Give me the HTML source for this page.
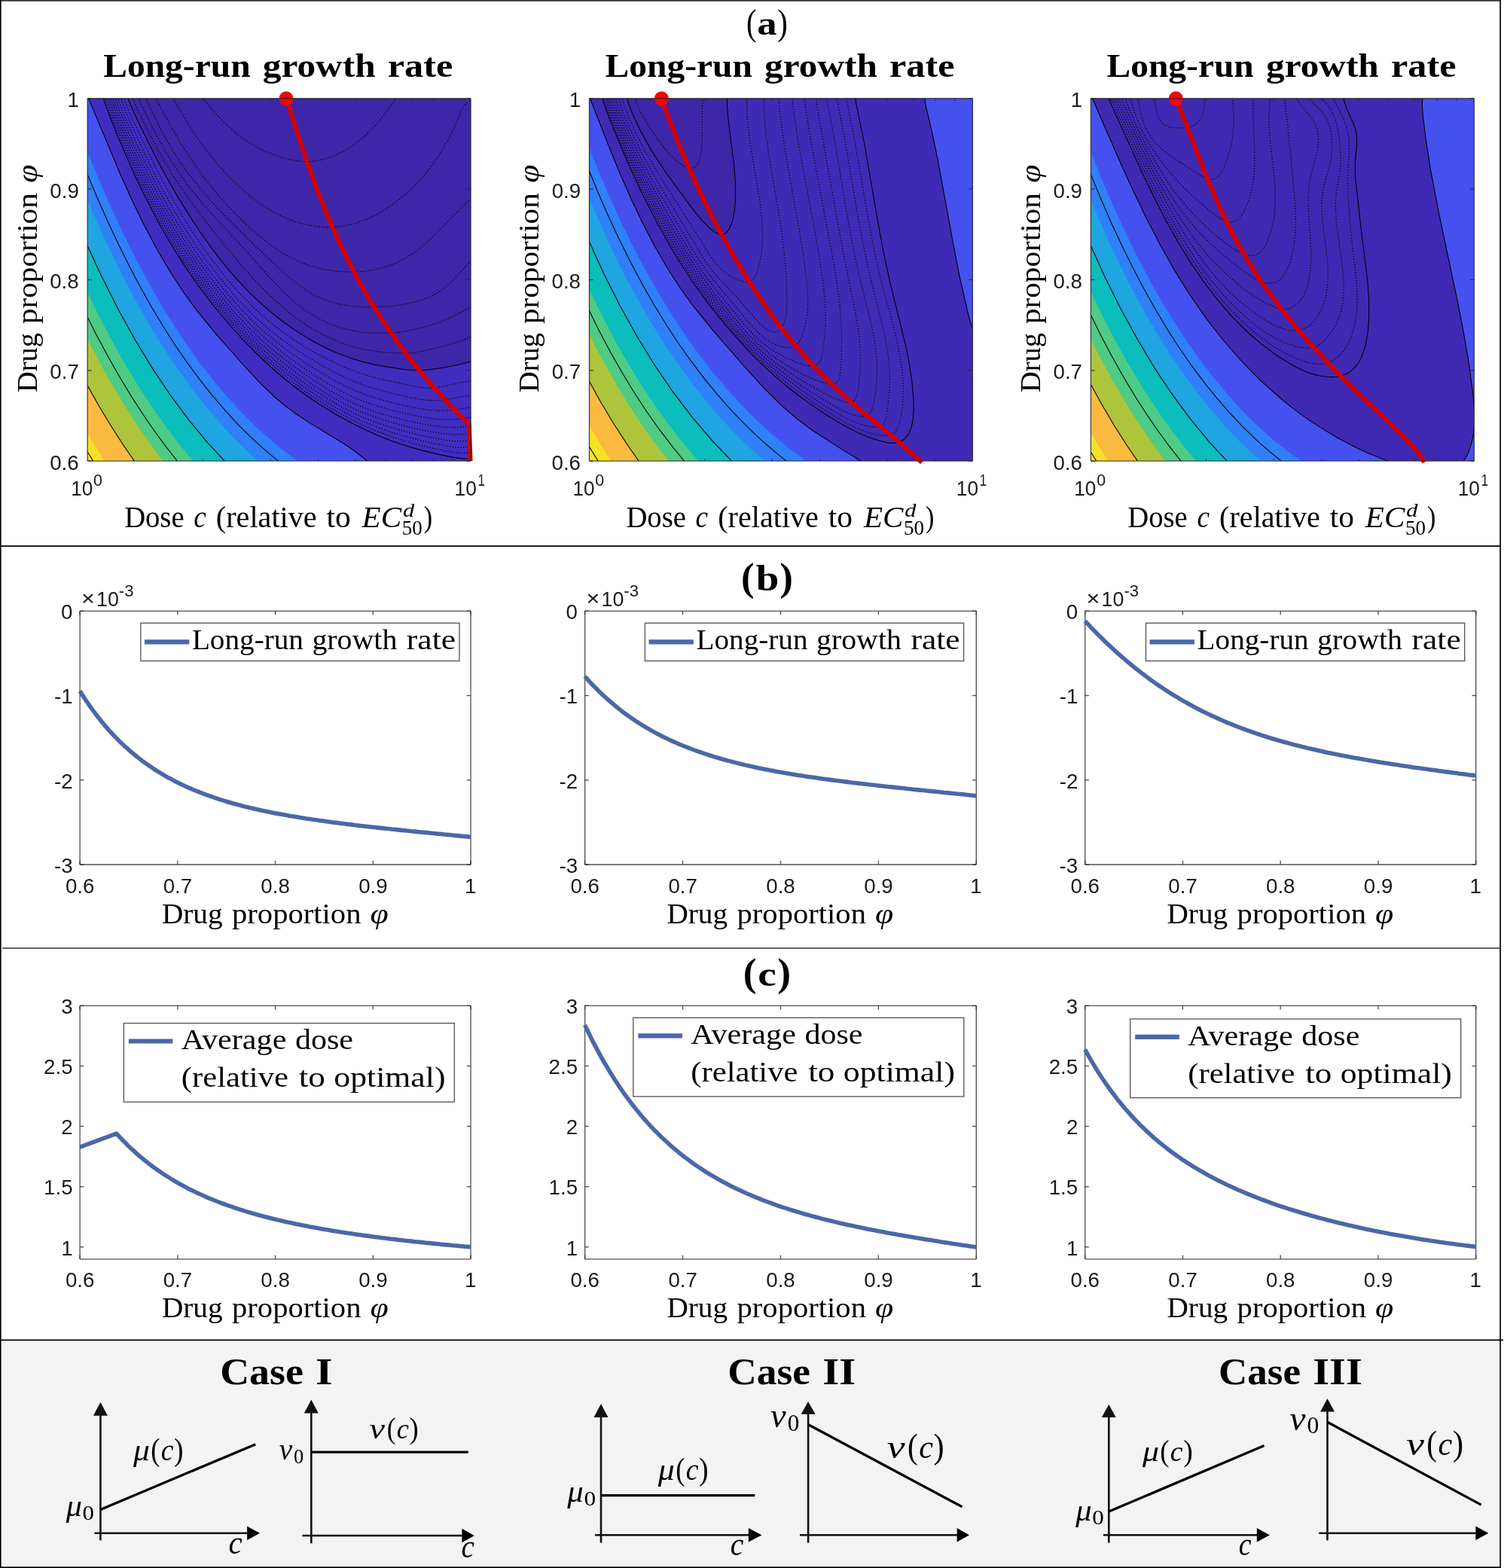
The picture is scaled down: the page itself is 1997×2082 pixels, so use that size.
<!DOCTYPE html>
<html><head><meta charset="utf-8"><title>Figure</title>
<style>html,body{margin:0;padding:0;background:#fff;}svg{display:block;}</style>
</head><body>
<svg xmlns="http://www.w3.org/2000/svg" width="1997" height="2082" viewBox="0 0 1997 2082">
<rect x="0" y="0" width="1997" height="2082" fill="#fff"/>
<rect x="3.3" y="1781.5" width="1987.3" height="298.1" fill="#f3f3f3"/>
<line x1="0" y1="0.8" x2="1993" y2="0.8" stroke="#333" stroke-width="1.7"/>
<line x1="0.8" y1="0" x2="0.8" y2="2082" stroke="#000" stroke-width="1.7"/>
<line x1="1992.1" y1="0" x2="1992.1" y2="2082" stroke="#000" stroke-width="1.7"/>
<line x1="0" y1="2081.1" x2="1993" y2="2081.1" stroke="#000" stroke-width="1.8"/>
<line x1="0" y1="725.1" x2="1993" y2="725.1" stroke="#000" stroke-width="1.7"/>
<line x1="3.2" y1="1259" x2="1993" y2="1259" stroke="#2e2e2e" stroke-width="1.7"/>
<line x1="0" y1="1779.4" x2="1996" y2="1779.4" stroke="#000" stroke-width="1.7"/>
<text x="991" y="46.3" font-family="'Liberation Serif', serif" font-size="49" textLength="13.32" lengthAdjust="spacingAndGlyphs">(</text>
<text x="1005.32" y="46.3" font-family="'Liberation Serif', serif" font-size="44.5" font-weight="bold" textLength="26.37" lengthAdjust="spacingAndGlyphs">a</text>
<text x="1032.28" y="46.3" font-family="'Liberation Serif', serif" font-size="49" textLength="13.58" lengthAdjust="spacingAndGlyphs">)</text>
<text x="983.9" y="784.2" font-family="'Liberation Serif', serif" font-size="53.4" font-weight="bold" textLength="17.47" lengthAdjust="spacingAndGlyphs">(</text>
<text x="1003.65" y="784.2" font-family="'Liberation Serif', serif" font-size="48.5" font-weight="bold" textLength="30.53" lengthAdjust="spacingAndGlyphs">b</text>
<text x="1035.21" y="784.2" font-family="'Liberation Serif', serif" font-size="53.4" font-weight="bold" textLength="17.68" lengthAdjust="spacingAndGlyphs">)</text>
<text x="986.77" y="1309.3" font-family="'Liberation Serif', serif" font-size="53.4" font-weight="bold" textLength="17.72" lengthAdjust="spacingAndGlyphs">(</text>
<text x="1006.15" y="1309.3" font-family="'Liberation Serif', serif" font-size="47" font-weight="bold" textLength="24.47" lengthAdjust="spacingAndGlyphs">c</text>
<text x="1032.3" y="1309.3" font-family="'Liberation Serif', serif" font-size="53.4" font-weight="bold" textLength="17.81" lengthAdjust="spacingAndGlyphs">)</text>
<clipPath id="clipA0"><rect x="116.2" y="130.7" width="508.9" height="481.4"/></clipPath>
<g clip-path="url(#clipA0)">
<rect x="116.2" y="130.7" width="508.9" height="481.4" fill="#3e26a8"/>
<path d="M116.2,128.7 169.3,128.7 174.2,141.7 188.2,171.4 204.2,203.7 218.2,230.2 230.2,251.4 244.2,274.7 258.2,296.8 274.2,320.2 288.2,339.2 302.2,356.6 316.2,372.7 328.2,385.4 342.2,399.1 357.6,412.7 372.5,424.7 386.3,434.7 401.5,444.7 415.0,452.7 430.2,460.7 444.2,467.2 458.2,472.9 474.2,478.3 488.2,482.2 504.2,485.6 542.2,491.2 552.2,491.8 562.2,491.6 574.2,490.4 592.2,487.5 610.2,483.9 628.2,479.5 628.2,614.7 114.2,614.7 114.2,128.7 116.2,128.7Z" fill="#412cc0" fill-rule="evenodd"/>
<path d="M116.2,128.7 116.8,128.7 148.2,204.4 163.9,240.7 178.2,271.9 194.2,304.3 210.2,334.1 228.2,364.5 244.2,388.8 262.2,413.5 286.2,442.8 326.2,488.0 348.2,511.4 366.2,528.5 380.2,540.0 394.2,550.3 412.2,562.1 459.1,590.7 473.2,600.7 490.9,614.7 114.2,614.7 114.2,128.7 116.2,128.7Z" fill="#4551ef" fill-rule="evenodd"/>
<path d="M114.9,198.7 130.2,236.1 146.2,272.8 162.2,307.3 178.2,339.6 194.2,369.8 212.2,401.5 230.2,430.8 246.2,455.0 264.2,480.3 282.2,503.7 300.2,525.2 320.2,547.1 340.0,566.7 360.0,584.7 379.7,600.7 399.0,614.7 114.2,614.7 114.2,196.9 114.9,198.7Z" fill="#2f80f9" fill-rule="evenodd"/>
<path d="M115.0,262.7 140.2,319.8 152.2,345.0 166.2,372.9 180.2,399.2 194.2,424.1 208.2,447.5 222.2,469.6 236.2,490.4 252.2,512.6 266.2,530.9 282.2,550.4 298.2,568.5 313.6,584.7 329.9,600.7 345.4,614.7 114.2,614.7 114.2,260.8 115.0,262.7Z" fill="#1fa5e0" fill-rule="evenodd"/>
<path d="M114.4,322.7 134.8,366.7 157.0,410.7 179.1,450.7 202.2,488.9 226.2,524.7 250.2,557.1 274.6,586.7 300.5,614.7 114.2,614.7 114.2,322.2 114.4,322.7Z" fill="#0bbdbc" fill-rule="evenodd"/>
<path d="M114.3,384.7 131.0,418.7 148.8,452.7 165.7,482.7 183.8,512.7 202.1,540.7 220.4,566.7 238.7,590.7 258.6,614.7 114.2,614.7 114.2,384.4 114.3,384.7Z" fill="#4ecb85" fill-rule="evenodd"/>
<path d="M115.0,448.7 140.7,496.7 165.6,538.7 178.4,558.7 191.9,578.7 218.4,614.7 114.2,614.7 114.2,447.1 115.0,448.7Z" fill="#aec43a" fill-rule="evenodd"/>
<path d="M114.3,508.7 131.2,538.7 146.9,564.7 163.6,590.7 180.1,614.7 114.2,614.7 114.3,508.7Z" fill="#f9ba3f" fill-rule="evenodd"/>
<path d="M114.4,572.7 140.5,614.7 114.2,614.7 114.2,572.4 114.4,572.7Z" fill="#f5e125" fill-rule="evenodd"/>
<path d="M169.3,128.7 173.8,140.7 182.2,158.9 198.2,191.8 214.2,222.8 226.2,244.5 238.2,264.9 254.2,290.6 266.2,308.7 280.2,328.5 292.2,344.3 304.2,359.0 316.2,372.7 330.2,387.4 344.2,400.9 358.2,413.2 372.5,424.7 386.3,434.7 402.2,445.1 418.2,454.5 434.2,462.7 448.2,468.9 464.2,475.0 480.2,480.1 496.2,484.0 512.2,486.9 538.2,490.7 548.2,491.7 558.2,491.7 570.2,490.9 588.2,488.2 608.2,484.3 628.2,479.5M136.6,128.7 142.2,145.1 154.2,175.7 166.2,204.3 178.2,231.1 190.2,256.3 202.2,279.8 214.2,301.9 226.2,322.7 238.2,342.1 252.2,363.4 266.2,383.2 280.2,401.7 294.2,419.0 310.2,437.5 326.2,454.8 342.2,471.0 358.2,486.0 374.2,500.0 390.0,512.7 406.2,524.7 423.9,536.7 443.5,548.7 461.4,558.7 481.1,568.7 500.2,577.5 518.2,584.8 536.2,591.0 554.2,596.4 578.2,602.4 602.2,607.4 614.2,608.9 628.2,609.2M116.8,128.7 160.2,232.4 176.2,267.7 192.2,300.4 208.2,330.6 226.2,361.3 244.1,388.7 261.6,412.7 286.2,442.8 326.2,488.0 348.2,511.4 366.2,528.5 380.2,540.0 394.2,550.3 412.2,562.1 459.1,590.7 473.2,600.7 490.9,614.7M114.2,226.8 129.2,262.7 143.4,294.7 157.5,324.7 171.4,352.7 185.1,378.7 200.7,406.7 217.5,434.7 232.9,458.7 249.4,482.7 267.2,506.7 283.2,526.7 300.4,546.7 318.2,565.8 336.2,583.4 354.2,599.6 372.8,614.7M114.2,322.2 134.8,366.7 157.0,410.7 179.1,450.7 202.2,488.9 226.2,524.7 250.2,557.1 274.6,586.7 300.5,614.7M114.2,417.1 128.2,444.9 144.2,474.8 160.2,502.8 174.2,525.9 190.2,550.7 204.2,571.0 220.2,592.8 237.4,614.7M114.2,508.4 131.2,538.7 146.9,564.7 163.6,590.7 180.1,614.7M114.2,596.9 125.3,614.7" fill="none" stroke="#000" stroke-width="1.1"/>
<path d="M268.6,128.7 284.2,148.5 298.2,163.5 314.2,177.5 324.2,184.9 333.1,190.7 342.2,196.0 352.2,201.0 370.2,208.0 380.2,210.8 390.2,212.9 400.2,214.3 408.2,214.7 414.2,214.4 422.2,213.2 430.2,211.3 440.2,208.0 448.2,204.6 456.2,200.6 464.2,195.9 472.2,190.5 486.2,179.1 500.2,164.9 510.2,152.6 527.1,128.7M228.3,128.7 252.2,168.3 264.2,186.0 276.2,202.2 288.2,217.0 300.2,230.6 314.2,244.8 326.2,255.6 338.2,265.3 352.2,275.1 364.2,282.2 378.2,289.0 392.2,294.4 406.2,298.3 420.2,300.8 432.2,301.6 446.2,301.1 458.2,299.7 471.2,296.7 484.2,292.2 498.2,285.8 510.6,278.7 524.2,269.4 536.2,259.8 546.2,250.7 556.2,240.5 566.3,228.7 575.5,216.7 586.3,200.7 595.6,184.7 602.5,170.7 611.8,148.7 614.9,142.7 617.7,138.7 620.2,136.2 624.2,133.8 628.2,132.6M206.4,128.7 214.2,144.4 228.2,170.1 240.2,190.5 250.2,206.2 262.2,223.8 274.2,240.0 286.2,254.9 300.2,270.9 314.2,285.6 330.2,301.1 344.2,313.4 358.2,324.5 370.2,332.9 384.2,341.2 398.2,347.8 412.2,353.0 426.2,356.8 440.2,359.4 454.2,360.8 470.2,361.2 484.2,360.2 498.2,357.9 512.2,354.2 524.2,349.8 534.2,345.1 544.2,339.2 552.2,333.7 562.2,325.8 578.2,311.1 614.2,274.1 628.2,261.3M192.9,128.7 200.2,145.0 212.2,169.1 220.2,183.9 230.2,200.9 240.2,216.4 250.2,230.5 270.2,255.6 289.2,276.7 310.2,298.4 336.2,323.8 372.2,357.8 386.2,370.2 398.2,379.7 408.2,386.6 420.2,393.3 432.2,398.5 446.2,402.8 462.2,405.8 478.2,407.5 494.2,407.9 512.2,407.1 532.2,404.8 548.2,401.7 559.1,398.7 569.6,394.7 578.2,390.3 586.2,385.2 594.2,378.8 600.2,373.2 620.2,351.9 628.2,344.4M183.2,128.7 188.2,140.3 202.2,168.6 220.2,201.7 228.2,215.0 238.2,230.4 248.2,244.4 258.2,257.3 282.2,285.3 324.4,330.7 356.2,366.3 369.7,380.7 381.9,392.7 392.2,401.8 403.6,410.7 414.2,417.8 426.2,424.7 438.2,430.2 450.8,434.7 464.2,438.2 478.2,440.7 490.2,441.9 506.2,442.5 522.2,442.3 532.2,441.1 552.2,437.0 566.2,433.4 580.2,429.0 591.4,424.7 602.2,419.8 628.2,405.6M175.4,128.7 180.2,140.4 194.2,168.8 206.2,192.1 218.2,213.9 228.2,230.7 238.2,246.2 262.2,279.9 282.2,305.7 302.2,330.4 322.6,354.7 338.8,372.7 354.4,388.7 369.3,402.7 383.5,414.7 398.2,425.8 411.7,434.7 424.2,441.9 438.2,448.9 452.2,454.8 466.2,459.6 480.2,463.3 494.2,465.9 508.2,467.7 538.2,469.1 546.2,468.8 552.2,468.0 576.7,462.7 592.7,458.7 608.2,453.9 628.2,446.5M164.4,128.7 168.2,140.1 176.2,158.5 192.2,192.9 208.2,225.3 220.2,248.1 232.2,269.7 244.2,290.0 256.2,309.0 268.2,326.8 282.2,346.0 294.2,361.4 308.2,378.1 320.2,391.4 334.2,405.7 348.2,418.8 362.2,430.6 378.1,442.7 392.2,452.4 408.7,462.7 426.2,472.6 442.3,480.7 460.2,488.7 476.2,494.8 492.2,499.8 510.2,504.3 549.1,512.7 560.2,514.7 568.2,515.4 576.2,515.1 586.2,513.6 628.2,504.6M160.1,128.7 164.2,141.3 172.2,160.4 188.2,195.8 202.2,225.0 214.2,248.5 226.2,270.6 238.2,291.3 250.2,310.7 262.2,328.8 276.2,348.6 290.2,366.9 302.2,381.6 316.2,397.6 330.2,412.4 342.9,424.7 356.2,436.4 371.5,448.7 388.2,460.8 406.2,472.6 426.2,484.6 444.2,494.4 460.2,502.2 475.6,508.7 490.2,513.8 510.2,519.6 539.8,526.7 556.2,529.9 568.2,531.4 580.2,531.8 592.2,531.0 628.2,523.9M156.3,128.7 160.2,141.1 168.2,160.9 182.2,192.8 196.2,222.7 208.2,246.8 220.2,269.4 232.2,290.5 244.2,310.3 256.2,328.8 270.2,349.0 282.2,365.2 296.2,382.9 310.2,399.5 324.2,414.8 338.2,428.9 352.2,441.8 368.2,455.1 384.2,467.1 403.8,480.7 422.2,492.4 440.2,503.1 456.2,511.6 471.5,518.7 486.2,524.5 505.8,530.7 528.9,536.7 552.2,541.7 570.2,544.4 584.2,545.4 596.2,545.1 608.2,543.7 628.2,540.0M152.8,128.7 157.3,142.7 164.2,160.2 178.2,192.8 192.2,223.2 204.2,247.5 216.2,270.3 228.2,291.7 240.2,311.6 252.2,330.4 266.2,350.8 280.2,369.9 294.2,387.8 308.2,404.5 322.2,420.1 336.2,434.4 350.2,447.5 365.7,460.7 381.0,472.7 400.2,486.5 418.4,498.7 434.3,508.7 452.2,518.9 467.9,526.7 482.2,532.8 500.2,539.0 524.2,545.8 548.2,551.3 570.2,555.2 586.2,556.9 600.2,557.2 612.2,556.2 628.2,553.4M149.6,128.7 154.2,142.9 162.2,163.4 176.2,196.2 188.2,222.6 200.2,247.2 212.2,270.3 224.2,291.9 236.2,312.1 248.2,331.0 262.2,351.8 276.2,371.2 290.2,389.3 306.2,408.7 320.2,424.4 334.2,438.9 348.2,452.2 362.4,464.7 379.8,478.7 396.2,490.9 416.2,504.8 434.8,516.7 452.0,526.7 467.8,534.7 481.5,540.7 502.2,548.1 524.2,554.5 549.9,560.7 570.9,564.7 588.2,567.0 602.2,567.7 614.2,566.9 628.2,564.5M146.7,128.7 152.2,145.5 160.2,165.9 174.2,199.0 186.2,225.4 198.2,250.1 210.2,273.2 222.2,294.8 234.2,315.1 246.2,334.1 260.2,354.9 274.2,374.4 288.2,392.7 302.2,409.8 316.2,425.8 330.2,440.6 346.2,456.2 362.2,470.5 378.2,483.6 398.2,498.7 415.2,510.7 433.6,522.7 450.2,532.5 465.9,540.7 480.2,547.2 500.0,554.7 520.2,561.0 548.2,568.3 572.2,573.3 590.2,576.2 604.2,577.2 614.2,576.6 628.2,574.2M143.9,128.7 149.9,146.7 158.2,167.8 170.2,196.4 184.2,227.5 196.2,252.3 208.2,275.5 220.2,297.2 232.2,317.5 246.2,339.7 260.2,360.5 274.2,379.8 288.2,398.0 302.2,415.1 316.2,431.0 330.2,445.8 346.2,461.5 362.2,475.9 380.1,490.7 398.2,504.5 415.4,516.7 433.8,528.7 450.2,538.4 465.9,546.7 480.2,553.3 498.7,560.7 522.2,568.5 546.2,575.1 570.7,580.7 590.2,584.3 604.2,585.9 614.2,585.6 628.2,583.2M141.3,128.7 148.2,148.8 158.2,174.1 170.2,202.6 182.2,229.2 194.2,254.0 206.2,277.3 218.2,299.1 230.2,319.6 242.2,338.8 256.2,359.8 270.2,379.5 284.2,397.9 298.2,415.2 314.2,433.5 328.2,448.5 344.2,464.4 360.2,479.1 376.2,492.6 394.2,506.7 410.7,518.7 428.6,530.7 445.0,540.7 463.3,550.7 480.2,558.8 499.1,566.7 520.2,574.2 542.2,580.7 566.2,586.7 590.2,591.6 606.2,594.0 614.2,594.0 628.2,591.9M138.9,128.7 146.2,149.8 156.2,175.1 168.2,203.6 180.2,230.3 192.2,255.3 204.2,278.8 216.2,300.7 228.2,321.3 242.2,343.7 256.2,364.6 270.2,384.2 284.2,402.5 298.2,419.6 314.2,437.9 328.2,452.9 344.2,468.8 360.2,483.6 377.9,498.7 395.8,512.7 412.2,524.5 430.6,536.7 447.3,546.7 465.7,556.7 482.2,564.7 500.7,572.7 520.2,580.0 541.3,586.7 562.2,592.3 588.2,598.1 606.2,601.3 616.2,601.6 628.2,600.5" fill="none" stroke="#000" stroke-width="1.25" stroke-dasharray="1.3 2.3"/>
</g>
<polyline points="380.4,130.7 381.3,133.7 382.2,136.8 383.2,139.8 384.1,142.8 385.1,145.8 386.0,148.9 387.0,151.9 388.0,154.9 388.9,157.9 389.9,161.0 390.8,164.0 391.8,167.0 392.8,170.1 393.8,173.1 394.8,176.1 395.7,179.1 396.7,182.2 397.7,185.2 398.7,188.2 399.7,191.2 400.7,194.3 401.8,197.3 402.8,200.3 403.8,203.4 404.8,206.4 405.9,209.4 406.9,212.4 408.0,215.5 409.0,218.5 410.1,221.5 411.2,224.5 412.2,227.6 413.3,230.6 414.4,233.6 415.5,236.7 416.6,239.7 417.8,242.7 418.9,245.7 420.0,248.8 421.2,251.8 422.3,254.8 423.5,257.8 424.7,260.9 425.8,263.9 427.0,266.9 428.2,270.0 429.4,273.0 430.7,276.0 431.9,279.0 433.1,282.1 434.4,285.1 435.7,288.1 436.9,291.1 438.2,294.2 439.5,297.2 440.8,300.2 442.2,303.3 443.5,306.3 444.9,309.3 446.2,312.3 447.6,315.4 449.0,318.4 450.4,321.4 451.8,324.4 453.2,327.5 454.7,330.5 456.1,333.5 457.6,336.6 459.1,339.6 460.6,342.6 462.1,345.6 463.6,348.7 465.2,351.7 466.7,354.7 468.3,357.7 469.9,360.8 471.5,363.8 473.1,366.8 474.8,369.9 476.4,372.9 478.1,375.9 479.8,378.9 481.5,382.0 483.2,385.0 485.0,388.0 486.8,391.0 488.5,394.1 490.3,397.1 492.1,400.1 494.0,403.2 495.8,406.2 497.7,409.2 499.6,412.2 501.5,415.3 503.4,418.3 505.4,421.3 507.4,424.3 509.3,427.4 511.4,430.4 513.4,433.4 515.4,436.5 517.5,439.5 519.6,442.5 521.7,445.5 523.9,448.6 526.0,451.6 528.2,454.6 530.4,457.6 532.6,460.7 534.9,463.7 537.1,466.7 539.4,469.8 541.7,472.8 544.1,475.8 546.4,478.8 548.8,481.9 551.2,484.9 553.7,487.9 556.1,490.9 558.6,494.0 561.1,497.0 563.6,500.0 566.2,503.1 568.8,506.1 571.4,509.1 574.0,512.1 576.7,515.2 579.4,518.2 582.1,521.2 584.8,524.2 587.6,527.3 590.3,530.3 593.2,533.3 596.0,536.4 598.9,539.4 601.8,542.4 604.7,545.4 607.7,548.5 610.6,551.5 613.6,554.5 616.7,557.5 619.7,560.6 622.8,563.6 624.6,612.0" fill="none" stroke="#d40000" stroke-width="6" stroke-linejoin="round"/>
<circle cx="380.0" cy="130.7" r="9.5" fill="#ff0000"/>
<line x1="116.2" y1="130.7" x2="625.1" y2="130.7" stroke="#262626" stroke-width="1.35" stroke-opacity="0.8"/>
<line x1="116.2" y1="612.1" x2="625.1" y2="612.1" stroke="#262626" stroke-width="1.35" stroke-opacity="0.8"/>
<line x1="116.2" y1="130.7" x2="116.2" y2="612.1" stroke="#262626" stroke-width="1.35" stroke-opacity="0.8"/>
<line x1="625.1" y1="130.7" x2="625.1" y2="612.1" stroke="#262626" stroke-width="1.35" stroke-opacity="0.8"/>
<line x1="116.2" y1="130.7" x2="121.4" y2="130.7" stroke="#262626" stroke-width="1.35" stroke-opacity="0.8"/>
<line x1="625.1" y1="130.7" x2="619.9" y2="130.7" stroke="#262626" stroke-width="1.35" stroke-opacity="0.8"/>
<line x1="116.2" y1="251.05" x2="121.4" y2="251.05" stroke="#262626" stroke-width="1.35" stroke-opacity="0.8"/>
<line x1="625.1" y1="251.05" x2="619.9" y2="251.05" stroke="#262626" stroke-width="1.35" stroke-opacity="0.8"/>
<line x1="116.2" y1="371.4" x2="121.4" y2="371.4" stroke="#262626" stroke-width="1.35" stroke-opacity="0.8"/>
<line x1="625.1" y1="371.4" x2="619.9" y2="371.4" stroke="#262626" stroke-width="1.35" stroke-opacity="0.8"/>
<line x1="116.2" y1="491.75" x2="121.4" y2="491.75" stroke="#262626" stroke-width="1.35" stroke-opacity="0.8"/>
<line x1="625.1" y1="491.75" x2="619.9" y2="491.75" stroke="#262626" stroke-width="1.35" stroke-opacity="0.8"/>
<line x1="116.2" y1="612.1" x2="121.4" y2="612.1" stroke="#262626" stroke-width="1.35" stroke-opacity="0.8"/>
<line x1="625.1" y1="612.1" x2="619.9" y2="612.1" stroke="#262626" stroke-width="1.35" stroke-opacity="0.8"/>
<line x1="269.39" y1="612.1" x2="269.39" y2="608.98" stroke="#262626" stroke-width="1.1" stroke-opacity="0.8"/>
<line x1="269.39" y1="130.7" x2="269.39" y2="133.82" stroke="#262626" stroke-width="1.1" stroke-opacity="0.8"/>
<line x1="359.01" y1="612.1" x2="359.01" y2="608.98" stroke="#262626" stroke-width="1.1" stroke-opacity="0.8"/>
<line x1="359.01" y1="130.7" x2="359.01" y2="133.82" stroke="#262626" stroke-width="1.1" stroke-opacity="0.8"/>
<line x1="422.59" y1="612.1" x2="422.59" y2="608.98" stroke="#262626" stroke-width="1.1" stroke-opacity="0.8"/>
<line x1="422.59" y1="130.7" x2="422.59" y2="133.82" stroke="#262626" stroke-width="1.1" stroke-opacity="0.8"/>
<line x1="471.91" y1="612.1" x2="471.91" y2="608.98" stroke="#262626" stroke-width="1.1" stroke-opacity="0.8"/>
<line x1="471.91" y1="130.7" x2="471.91" y2="133.82" stroke="#262626" stroke-width="1.1" stroke-opacity="0.8"/>
<line x1="512.2" y1="612.1" x2="512.2" y2="608.98" stroke="#262626" stroke-width="1.1" stroke-opacity="0.8"/>
<line x1="512.2" y1="130.7" x2="512.2" y2="133.82" stroke="#262626" stroke-width="1.1" stroke-opacity="0.8"/>
<line x1="546.27" y1="612.1" x2="546.27" y2="608.98" stroke="#262626" stroke-width="1.1" stroke-opacity="0.8"/>
<line x1="546.27" y1="130.7" x2="546.27" y2="133.82" stroke="#262626" stroke-width="1.1" stroke-opacity="0.8"/>
<line x1="575.78" y1="612.1" x2="575.78" y2="608.98" stroke="#262626" stroke-width="1.1" stroke-opacity="0.8"/>
<line x1="575.78" y1="130.7" x2="575.78" y2="133.82" stroke="#262626" stroke-width="1.1" stroke-opacity="0.8"/>
<line x1="601.81" y1="612.1" x2="601.81" y2="608.98" stroke="#262626" stroke-width="1.1" stroke-opacity="0.8"/>
<line x1="601.81" y1="130.7" x2="601.81" y2="133.82" stroke="#262626" stroke-width="1.1" stroke-opacity="0.8"/>
<text x="89.47" y="142.3" font-family="'Liberation Sans', Arial, sans-serif" font-size="27.7" fill="#1a1a1a">1</text>
<text x="66.34" y="262.65" font-family="'Liberation Sans', Arial, sans-serif" font-size="27.7" fill="#1a1a1a">0.9</text>
<text x="66.21" y="383" font-family="'Liberation Sans', Arial, sans-serif" font-size="27.7" fill="#1a1a1a">0.8</text>
<text x="66.34" y="503.35" font-family="'Liberation Sans', Arial, sans-serif" font-size="27.7" fill="#1a1a1a">0.7</text>
<text x="66.21" y="623.7" font-family="'Liberation Sans', Arial, sans-serif" font-size="27.7" fill="#1a1a1a">0.6</text>
<text x="94.14" y="657.8" font-family="'Liberation Sans', Arial, sans-serif" font-size="27.7" fill="#1a1a1a" textLength="29.03" lengthAdjust="spacingAndGlyphs">10</text>
<text x="124.05" y="644.7" font-family="'Liberation Sans', Arial, sans-serif" font-size="22" fill="#1a1a1a" textLength="11.93" lengthAdjust="spacingAndGlyphs">0</text>
<text x="603.53" y="657.8" font-family="'Liberation Sans', Arial, sans-serif" font-size="27.7" fill="#1a1a1a" textLength="29.25" lengthAdjust="spacingAndGlyphs">10</text>
<text x="634.44" y="644.7" font-family="'Liberation Sans', Arial, sans-serif" font-size="22" fill="#1a1a1a" textLength="9.33" lengthAdjust="spacingAndGlyphs">1</text>
<text x="137.29" y="102.3" font-family="'Liberation Serif', serif" font-size="45.3" font-weight="bold" textLength="195.3" lengthAdjust="spacingAndGlyphs">Long-run</text>
<text x="348.77" y="102.3" font-family="'Liberation Serif', serif" font-size="45.3" font-weight="bold" textLength="149.83" lengthAdjust="spacingAndGlyphs">growth</text>
<text x="514.74" y="102.3" font-family="'Liberation Serif', serif" font-size="45.3" font-weight="bold" textLength="86.55" lengthAdjust="spacingAndGlyphs">rate</text>
<text transform="rotate(-90)" x="-521.06" y="48.5" font-family="'Liberation Serif', serif" font-size="38.5" textLength="79.05" lengthAdjust="spacingAndGlyphs">Drug</text>
<text transform="rotate(-90)" x="-430.12" y="48.5" font-family="'Liberation Serif', serif" font-size="38.5" textLength="173.91" lengthAdjust="spacingAndGlyphs">proportion</text>
<text transform="rotate(-90)" x="-242.89" y="48.5" font-family="'Liberation Serif', serif" font-size="38.5" font-style="italic" textLength="24.1" lengthAdjust="spacingAndGlyphs">&#966;</text>
<text x="165.13" y="700" font-family="'Liberation Serif', serif" font-size="39" textLength="79.42" lengthAdjust="spacingAndGlyphs">Dose</text>
<text x="257.18" y="700" font-family="'Liberation Serif', serif" font-size="39" font-style="italic" textLength="16.55" lengthAdjust="spacingAndGlyphs">c</text>
<text x="286.89" y="700" font-family="'Liberation Serif', serif" font-size="39" textLength="133.75" lengthAdjust="spacingAndGlyphs">(relative</text>
<text x="433.49" y="700" font-family="'Liberation Serif', serif" font-size="39" textLength="32.27" lengthAdjust="spacingAndGlyphs">to</text>
<text x="480.62" y="700" font-family="'Liberation Serif', serif" font-size="39" font-style="italic" textLength="52.49" lengthAdjust="spacingAndGlyphs">EC</text>
<text x="562.77" y="700" font-family="'Liberation Serif', serif" font-size="39" textLength="11.4" lengthAdjust="spacingAndGlyphs">)</text>
<text x="534.98" y="686" font-family="'Liberation Serif', serif" font-size="26" font-style="italic" textLength="15.26" lengthAdjust="spacingAndGlyphs">d</text>
<text x="533.81" y="709.5" font-family="'Liberation Serif', serif" font-size="27" textLength="27.03" lengthAdjust="spacingAndGlyphs">50</text>
<clipPath id="clipA1"><rect x="782.5" y="130.7" width="508.9" height="481.4"/></clipPath>
<g clip-path="url(#clipA1)">
<rect x="782.5" y="130.7" width="508.9" height="481.4" fill="#3e26a8"/>
<path d="M782.5,128.7 832.6,128.7 834.5,137.2 838.5,148.3 850.5,174.1 864.5,199.1 882.5,226.8 914.5,270.7 924.5,283.7 932.5,293.1 940.5,301.3 948.5,307.9 954.5,310.9 958.5,311.5 962.5,310.4 964.7,308.7 967.8,304.7 970.7,298.7 972.7,292.7 974.5,284.5 975.8,274.7 976.5,263.9 976.5,246.7 975.5,228.7 973.6,210.7 966.8,156.7 965.5,140.7 965.4,128.7 1294.5,128.7 1294.5,614.7 780.5,614.7 780.5,128.7 782.5,128.7Z" fill="#3f2ab6" fill-rule="evenodd"/>
<path d="M782.5,128.7 822.5,228.7 838.5,265.2 852.5,294.6 868.5,325.4 884.5,353.3 900.5,378.5 918.5,403.8 944.5,436.2 988.5,487.0 1014.5,515.4 1038.5,539.1 1058.5,556.4 1077.8,570.7 1120.5,598.4 1147.7,614.7 780.5,614.7 780.5,128.7 782.5,128.7ZM1228.5,128.7 1294.5,128.7 1294.5,443.1 1290.5,434.1 1286.5,421.1 1274.5,368.8 1266.5,328.4 1244.9,210.7 1238.2,178.7 1229.3,140.7 1228.2,132.7 1228.1,128.7 1228.5,128.7Z" fill="#4551ef" fill-rule="evenodd"/>
<path d="M780.9,192.7 794.5,226.8 810.5,264.1 826.5,298.8 842.5,331.2 858.5,361.3 876.5,392.8 894.5,421.9 912.5,448.8 930.5,473.7 948.5,496.7 968.5,520.2 989.4,542.7 1009.8,562.7 1030.5,581.2 1052.2,598.7 1074.1,614.7 780.5,614.7 780.5,191.8 780.9,192.7Z" fill="#2f80f9" fill-rule="evenodd"/>
<path d="M780.6,258.7 792.5,286.8 806.5,318.0 818.5,343.2 832.5,371.0 846.5,397.0 860.5,421.5 874.5,444.6 888.5,466.2 902.5,486.6 918.5,508.5 934.5,528.9 950.5,547.9 966.5,565.6 983.1,582.7 1000.5,599.3 1017.9,614.7 780.5,614.7 780.6,258.7Z" fill="#1fa5e0" fill-rule="evenodd"/>
<path d="M781.3,318.7 801.4,362.7 823.6,406.7 845.8,446.7 869.2,484.7 893.7,520.7 919.6,554.7 946.5,586.2 973.9,614.7 780.5,614.7 780.5,316.8 781.3,318.7Z" fill="#0bbdbc" fill-rule="evenodd"/>
<path d="M780.7,380.7 796.5,413.5 814.5,448.2 832.5,480.1 850.5,509.5 868.5,536.7 888.5,564.6 908.5,590.1 929.6,614.7 780.5,614.7 780.5,380.3 780.7,380.7Z" fill="#4ecb85" fill-rule="evenodd"/>
<path d="M780.8,440.7 792.5,463.8 806.0,488.7 818.5,510.7 832.5,533.7 846.5,555.3 860.5,575.7 874.5,594.9 890.0,614.7 780.5,614.7 780.5,440.2 780.8,440.7Z" fill="#aec43a" fill-rule="evenodd"/>
<path d="M781.5,504.7 798.2,534.7 814.5,562.0 832.5,589.8 849.9,614.7 780.5,614.7 780.5,502.9 781.5,504.7Z" fill="#f9ba3f" fill-rule="evenodd"/>
<path d="M781.2,562.7 796.7,588.7 813.3,614.7 780.5,614.7 780.5,561.5 781.2,562.7Z" fill="#f5e125" fill-rule="evenodd"/>
<path d="M832.6,128.7 834.5,137.2 838.5,148.3 850.5,174.1 864.5,199.1 882.5,226.8 914.5,270.7 924.5,283.7 932.5,293.1 940.5,301.3 948.5,307.9 954.5,310.9 958.5,311.5 962.5,310.4 964.7,308.7 967.8,304.7 970.7,298.7 972.7,292.7 974.5,284.5 975.8,274.7 976.5,263.9 976.5,246.7 975.5,228.7 973.6,210.7 966.8,156.7 965.5,140.7 965.4,128.7M799.1,128.7 802.5,139.7 810.5,160.8 832.5,213.5 852.5,256.8 874.5,299.7 896.5,338.2 918.5,372.7 940.5,403.1 964.5,433.1 990.5,462.4 1002.5,474.8 1016.5,488.2 1030.5,500.9 1044.5,512.7 1060.5,525.3 1076.5,536.9 1094.0,548.7 1110.0,558.7 1124.5,567.1 1139.4,574.7 1152.5,580.2 1166.0,584.7 1180.5,588.2 1186.5,588.4 1194.5,586.6 1198.5,584.7 1201.2,582.7 1206.2,576.7 1209.7,568.7 1212.0,558.7 1213.1,544.7 1212.8,528.7 1211.1,508.7 1207.7,484.7 1203.0,460.7 1181.7,374.7 1173.5,336.7 1166.0,296.7 1148.5,195.0 1135.0,128.7M782.7,128.7 808.5,194.5 822.5,228.7 838.5,265.2 852.5,294.6 868.5,325.4 884.5,353.3 900.5,378.5 918.5,403.8 944.5,436.2 988.5,487.0 1014.5,515.4 1038.5,539.1 1058.5,556.4 1077.8,570.7 1120.5,598.4 1147.7,614.7M1294.5,443.1 1290.5,434.1 1286.5,421.1 1274.5,368.8 1266.5,328.4 1244.9,210.7 1238.2,178.7 1229.3,140.7 1228.4,134.7 1228.1,128.7M780.5,222.4 793.7,254.7 807.7,286.7 821.7,316.7 837.6,348.7 853.6,378.7 869.7,406.7 885.6,432.7 901.4,456.7 917.0,478.7 935.1,502.7 953.2,524.7 970.9,544.7 990.2,564.7 1008.5,582.2 1028.5,599.7 1047.2,614.7M780.5,316.8 801.4,362.7 823.6,406.7 845.8,446.7 869.2,484.7 893.7,520.7 919.6,554.7 946.5,586.2 973.9,614.7M780.5,408.8 795.3,438.7 811.2,468.7 827.2,496.7 841.8,520.7 858.8,546.7 875.8,570.7 894.1,594.7 910.5,614.7M780.5,502.9 797.0,532.7 814.5,562.0 832.5,589.8 849.9,614.7M780.5,590.1 795.7,614.7" fill="none" stroke="#000" stroke-width="1.1"/>
<path d="M843.4,128.7 844.5,134.4 846.5,140.2 852.5,152.7 864.5,172.6 876.5,189.6 888.5,203.9 898.5,213.8 904.5,218.4 908.5,220.8 912.5,222.5 916.5,223.3 920.5,222.8 922.5,221.8 925.7,218.7 928.5,213.3 930.5,205.7 932.3,188.7 932.2,144.7 933.7,128.7M826.1,128.7 828.5,138.7 834.5,155.0 844.5,177.2 856.5,200.5 876.5,234.5 925.1,310.7 942.5,339.4 948.5,347.6 954.5,354.4 960.5,360.0 966.5,364.7 972.5,368.4 980.5,372.0 986.5,373.8 992.5,374.6 996.5,373.8 998.5,372.7 1000.5,370.8 1003.9,364.7 1006.5,357.5 1009.3,346.7 1010.9,336.7 1012.0,324.7 1012.3,310.7 1011.5,290.7 1008.9,266.7 997.1,196.7 993.5,170.7 991.7,148.7 991.5,128.7M821.3,128.7 824.5,141.2 830.5,157.3 842.5,184.3 854.5,208.1 878.5,250.5 936.5,346.8 944.5,357.9 952.5,367.5 978.4,394.7 1002.5,422.6 1010.5,431.2 1016.5,436.4 1020.5,438.8 1026.5,440.9 1030.5,441.1 1034.5,439.8 1037.7,436.7 1040.6,430.7 1043.0,422.7 1044.2,414.7 1044.8,404.7 1044.3,374.7 1042.0,342.7 1038.0,308.7 1033.3,278.7 1021.9,212.7 1017.6,182.7 1014.8,152.7 1014.1,128.7M817.3,128.7 821.1,142.7 828.5,162.1 840.5,189.2 852.5,213.5 866.5,239.7 886.5,275.0 924.5,339.3 934.5,354.8 950.5,375.9 996.4,430.7 1007.6,442.7 1016.5,450.1 1026.5,456.1 1032.5,458.8 1038.5,460.7 1046.5,461.8 1052.5,460.8 1056.8,458.7 1060.7,454.7 1064.8,446.7 1068.5,434.7 1071.4,420.7 1072.5,408.7 1072.6,394.7 1070.5,368.7 1065.6,332.7 1060.5,301.8 1045.6,218.7 1039.8,182.7 1035.4,148.7 1034.0,128.7M813.9,128.7 818.5,145.0 828.5,170.3 840.5,197.1 856.5,229.3 876.5,266.5 898.5,304.9 922.5,345.3 938.5,368.9 952.5,386.9 986.5,428.7 1000.5,444.5 1010.5,453.9 1024.5,464.3 1034.5,470.3 1042.5,474.5 1056.5,480.7 1066.5,484.3 1072.5,485.8 1078.5,486.3 1082.5,485.4 1086.7,482.7 1089.4,478.7 1091.8,470.7 1094.2,452.7 1095.8,432.7 1096.1,416.7 1095.3,398.7 1092.8,374.7 1088.1,342.7 1081.9,306.7 1060.2,190.7 1053.8,148.7 1051.8,128.7M810.8,128.7 812.9,136.7 816.5,147.5 830.5,181.9 846.5,216.6 864.5,252.0 888.5,295.7 916.5,343.2 930.5,364.8 948.5,389.1 974.5,421.7 992.5,442.8 1006.5,456.9 1020.5,468.6 1032.5,477.2 1044.5,484.9 1058.5,493.1 1070.5,499.3 1082.5,504.4 1092.5,507.7 1100.5,509.5 1106.5,509.7 1110.5,508.3 1112.3,506.7 1113.5,504.7 1115.0,500.7 1116.2,492.7 1117.2,472.7 1117.5,446.7 1117.0,428.7 1115.4,408.7 1112.0,380.7 1106.6,346.7 1078.0,194.7 1070.7,150.7 1068.1,128.7M808.1,128.7 810.9,138.7 816.5,154.5 832.5,192.8 850.5,231.2 872.5,273.9 896.5,316.6 918.5,353.0 934.5,376.6 958.5,408.1 978.6,432.7 996.5,452.6 1012.5,467.7 1030.5,482.2 1044.5,492.3 1060.5,502.8 1088.5,518.9 1102.5,526.2 1112.5,530.7 1122.5,534.1 1128.5,534.7 1132.5,533.4 1135.4,530.7 1138.0,524.7 1139.5,516.7 1141.4,498.7 1142.4,480.7 1142.2,464.7 1140.8,446.7 1138.6,430.7 1135.8,414.7 1121.9,346.7 1111.0,288.7 1085.2,142.7 1083.2,128.7M805.6,128.7 808.5,138.9 814.5,155.5 832.5,198.5 852.5,241.2 874.5,283.8 896.5,322.9 918.5,358.7 936.5,384.7 962.5,418.4 984.5,444.5 1002.5,463.3 1022.5,481.2 1044.5,498.4 1058.5,508.4 1074.5,518.9 1096.5,532.4 1114.5,542.7 1124.5,547.7 1132.5,550.7 1140.5,552.7 1146.5,553.1 1150.5,552.2 1153.1,550.7 1155.1,548.7 1158.1,542.7 1160.1,534.7 1162.8,516.7 1164.3,498.7 1164.3,482.7 1162.8,464.7 1160.5,448.7 1156.5,429.0 1140.1,362.7 1131.6,322.7 1124.4,282.7 1108.5,187.3 1099.0,138.7 1097.5,128.7M803.3,128.7 806.5,139.6 812.5,155.9 832.5,203.8 854.5,250.8 876.5,293.3 898.5,331.9 918.5,363.8 940.5,394.9 964.5,425.5 986.5,450.9 996.5,461.5 1008.5,473.2 1020.5,484.1 1034.5,495.8 1062.5,517.0 1079.7,528.7 1098.4,540.7 1115.1,550.7 1126.5,556.7 1136.5,561.2 1146.5,564.8 1156.5,566.6 1164.9,566.7 1170.5,565.0 1173.2,562.7 1175.6,558.7 1177.6,550.7 1180.1,526.7 1181.3,508.7 1181.1,492.7 1179.5,474.7 1176.8,456.7 1173.2,438.7 1154.8,364.7 1145.7,322.7 1137.9,280.7 1121.6,184.7 1110.8,128.7M801.2,128.7 804.5,139.8 810.5,156.0 820.5,180.8 832.5,208.8 854.5,256.0 876.5,298.5 898.5,336.9 918.5,368.5 940.5,399.2 966.5,431.9 980.5,448.1 992.5,461.1 1016.5,484.6 1030.5,496.9 1044.5,508.5 1060.5,520.7 1074.5,530.7 1092.4,542.7 1111.7,554.7 1126.0,562.7 1138.2,568.7 1148.5,572.8 1161.5,576.7 1170.5,578.4 1178.5,578.6 1184.5,577.0 1187.8,574.7 1189.6,572.7 1192.9,566.7 1195.9,556.7 1198.4,540.7 1199.5,524.7 1199.2,508.7 1197.6,490.7 1194.5,470.7 1190.5,451.6 1184.5,427.3 1169.4,370.7 1160.4,330.7 1152.1,286.7 1135.0,186.7 1123.2,128.7" fill="none" stroke="#000" stroke-width="1.25" stroke-dasharray="1.3 2.3"/>
</g>
<polyline points="878.2,130.7 879.3,133.7 880.4,136.7 881.5,139.8 882.6,142.8 883.7,145.8 884.8,148.8 886.0,151.8 887.1,154.9 888.3,157.9 889.4,160.9 890.6,163.9 891.8,166.9 892.9,170.0 894.1,173.0 895.3,176.0 896.5,179.0 897.7,182.1 898.9,185.1 900.2,188.1 901.4,191.1 902.6,194.1 903.9,197.2 905.1,200.2 906.4,203.2 907.7,206.2 909.0,209.2 910.2,212.3 911.5,215.3 912.9,218.3 914.2,221.3 915.5,224.3 916.8,227.4 918.2,230.4 919.5,233.4 920.9,236.4 922.3,239.4 923.7,242.5 925.1,245.5 926.5,248.5 927.9,251.5 929.3,254.5 930.7,257.6 932.2,260.6 933.6,263.6 935.1,266.6 936.6,269.6 938.0,272.7 939.5,275.7 941.1,278.7 942.6,281.7 944.1,284.8 945.6,287.8 947.2,290.8 948.8,293.8 950.3,296.8 951.9,299.9 953.5,302.9 955.1,305.9 956.7,308.9 958.4,311.9 960.0,315.0 961.7,318.0 963.3,321.0 965.0,324.0 966.7,327.0 968.4,330.1 970.1,333.1 971.8,336.1 973.6,339.1 975.3,342.1 977.1,345.2 978.9,348.2 980.7,351.2 982.5,354.2 984.3,357.2 986.1,360.3 988.0,363.3 989.8,366.3 991.7,369.3 993.6,372.3 995.5,375.4 997.4,378.4 999.4,381.4 1001.3,384.4 1003.3,387.5 1005.3,390.5 1007.3,393.5 1009.4,396.5 1011.4,399.5 1013.5,402.6 1015.6,405.6 1017.7,408.6 1019.8,411.6 1022.0,414.6 1024.2,417.7 1026.4,420.7 1028.6,423.7 1030.8,426.7 1033.1,429.7 1035.4,432.8 1037.7,435.8 1040.1,438.8 1042.4,441.8 1044.8,444.8 1047.2,447.9 1049.7,450.9 1052.2,453.9 1054.7,456.9 1057.2,459.9 1059.8,463.0 1062.4,466.0 1065.0,469.0 1067.7,472.0 1070.3,475.1 1073.1,478.1 1075.8,481.1 1078.6,484.1 1081.5,487.1 1084.3,490.2 1087.2,493.2 1090.2,496.2 1093.1,499.2 1096.2,502.2 1099.2,505.3 1102.3,508.3 1105.5,511.3 1108.6,514.3 1111.8,517.3 1115.1,520.4 1118.4,523.4 1121.8,526.4 1125.2,529.4 1128.6,532.4 1132.0,535.5 1135.5,538.5 1139.1,541.5 1142.6,544.5 1146.2,547.5 1149.8,550.6 1153.4,553.6 1157.0,556.6 1160.6,559.6 1164.3,562.6 1167.9,565.7 1171.6,568.7 1175.2,571.7 1178.8,574.7 1182.5,577.8 1186.1,580.8 1189.7,583.8 1193.3,586.8 1196.8,589.8 1200.3,592.9 1203.8,595.9 1207.3,598.9 1210.7,601.9 1214.1,604.9 1217.5,608.0 1220.8,611.0 1224.1,614.0" fill="none" stroke="#d40000" stroke-width="6" stroke-linejoin="round"/>
<circle cx="878.4" cy="130.7" r="9.5" fill="#ff0000"/>
<line x1="782.5" y1="130.7" x2="1291.4" y2="130.7" stroke="#262626" stroke-width="1.35" stroke-opacity="0.8"/>
<line x1="782.5" y1="612.1" x2="1291.4" y2="612.1" stroke="#262626" stroke-width="1.35" stroke-opacity="0.8"/>
<line x1="782.5" y1="130.7" x2="782.5" y2="612.1" stroke="#262626" stroke-width="1.35" stroke-opacity="0.8"/>
<line x1="1291.4" y1="130.7" x2="1291.4" y2="612.1" stroke="#262626" stroke-width="1.35" stroke-opacity="0.8"/>
<line x1="782.5" y1="130.7" x2="787.7" y2="130.7" stroke="#262626" stroke-width="1.35" stroke-opacity="0.8"/>
<line x1="1291.4" y1="130.7" x2="1286.2" y2="130.7" stroke="#262626" stroke-width="1.35" stroke-opacity="0.8"/>
<line x1="782.5" y1="251.05" x2="787.7" y2="251.05" stroke="#262626" stroke-width="1.35" stroke-opacity="0.8"/>
<line x1="1291.4" y1="251.05" x2="1286.2" y2="251.05" stroke="#262626" stroke-width="1.35" stroke-opacity="0.8"/>
<line x1="782.5" y1="371.4" x2="787.7" y2="371.4" stroke="#262626" stroke-width="1.35" stroke-opacity="0.8"/>
<line x1="1291.4" y1="371.4" x2="1286.2" y2="371.4" stroke="#262626" stroke-width="1.35" stroke-opacity="0.8"/>
<line x1="782.5" y1="491.75" x2="787.7" y2="491.75" stroke="#262626" stroke-width="1.35" stroke-opacity="0.8"/>
<line x1="1291.4" y1="491.75" x2="1286.2" y2="491.75" stroke="#262626" stroke-width="1.35" stroke-opacity="0.8"/>
<line x1="782.5" y1="612.1" x2="787.7" y2="612.1" stroke="#262626" stroke-width="1.35" stroke-opacity="0.8"/>
<line x1="1291.4" y1="612.1" x2="1286.2" y2="612.1" stroke="#262626" stroke-width="1.35" stroke-opacity="0.8"/>
<line x1="935.69" y1="612.1" x2="935.69" y2="608.98" stroke="#262626" stroke-width="1.1" stroke-opacity="0.8"/>
<line x1="935.69" y1="130.7" x2="935.69" y2="133.82" stroke="#262626" stroke-width="1.1" stroke-opacity="0.8"/>
<line x1="1025.31" y1="612.1" x2="1025.31" y2="608.98" stroke="#262626" stroke-width="1.1" stroke-opacity="0.8"/>
<line x1="1025.31" y1="130.7" x2="1025.31" y2="133.82" stroke="#262626" stroke-width="1.1" stroke-opacity="0.8"/>
<line x1="1088.89" y1="612.1" x2="1088.89" y2="608.98" stroke="#262626" stroke-width="1.1" stroke-opacity="0.8"/>
<line x1="1088.89" y1="130.7" x2="1088.89" y2="133.82" stroke="#262626" stroke-width="1.1" stroke-opacity="0.8"/>
<line x1="1138.21" y1="612.1" x2="1138.21" y2="608.98" stroke="#262626" stroke-width="1.1" stroke-opacity="0.8"/>
<line x1="1138.21" y1="130.7" x2="1138.21" y2="133.82" stroke="#262626" stroke-width="1.1" stroke-opacity="0.8"/>
<line x1="1178.5" y1="612.1" x2="1178.5" y2="608.98" stroke="#262626" stroke-width="1.1" stroke-opacity="0.8"/>
<line x1="1178.5" y1="130.7" x2="1178.5" y2="133.82" stroke="#262626" stroke-width="1.1" stroke-opacity="0.8"/>
<line x1="1212.57" y1="612.1" x2="1212.57" y2="608.98" stroke="#262626" stroke-width="1.1" stroke-opacity="0.8"/>
<line x1="1212.57" y1="130.7" x2="1212.57" y2="133.82" stroke="#262626" stroke-width="1.1" stroke-opacity="0.8"/>
<line x1="1242.08" y1="612.1" x2="1242.08" y2="608.98" stroke="#262626" stroke-width="1.1" stroke-opacity="0.8"/>
<line x1="1242.08" y1="130.7" x2="1242.08" y2="133.82" stroke="#262626" stroke-width="1.1" stroke-opacity="0.8"/>
<line x1="1268.11" y1="612.1" x2="1268.11" y2="608.98" stroke="#262626" stroke-width="1.1" stroke-opacity="0.8"/>
<line x1="1268.11" y1="130.7" x2="1268.11" y2="133.82" stroke="#262626" stroke-width="1.1" stroke-opacity="0.8"/>
<text x="755.77" y="142.3" font-family="'Liberation Sans', Arial, sans-serif" font-size="27.7" fill="#1a1a1a">1</text>
<text x="732.64" y="262.65" font-family="'Liberation Sans', Arial, sans-serif" font-size="27.7" fill="#1a1a1a">0.9</text>
<text x="732.5" y="383" font-family="'Liberation Sans', Arial, sans-serif" font-size="27.7" fill="#1a1a1a">0.8</text>
<text x="732.64" y="503.35" font-family="'Liberation Sans', Arial, sans-serif" font-size="27.7" fill="#1a1a1a">0.7</text>
<text x="732.5" y="623.7" font-family="'Liberation Sans', Arial, sans-serif" font-size="27.7" fill="#1a1a1a">0.6</text>
<text x="760.44" y="657.8" font-family="'Liberation Sans', Arial, sans-serif" font-size="27.7" fill="#1a1a1a" textLength="29.03" lengthAdjust="spacingAndGlyphs">10</text>
<text x="790.35" y="644.7" font-family="'Liberation Sans', Arial, sans-serif" font-size="22" fill="#1a1a1a" textLength="11.93" lengthAdjust="spacingAndGlyphs">0</text>
<text x="1269.83" y="657.8" font-family="'Liberation Sans', Arial, sans-serif" font-size="27.7" fill="#1a1a1a" textLength="29.25" lengthAdjust="spacingAndGlyphs">10</text>
<text x="1300.74" y="644.7" font-family="'Liberation Sans', Arial, sans-serif" font-size="22" fill="#1a1a1a" textLength="9.33" lengthAdjust="spacingAndGlyphs">1</text>
<text x="803.59" y="102.3" font-family="'Liberation Serif', serif" font-size="45.3" font-weight="bold" textLength="195.3" lengthAdjust="spacingAndGlyphs">Long-run</text>
<text x="1015.07" y="102.3" font-family="'Liberation Serif', serif" font-size="45.3" font-weight="bold" textLength="149.83" lengthAdjust="spacingAndGlyphs">growth</text>
<text x="1181.04" y="102.3" font-family="'Liberation Serif', serif" font-size="45.3" font-weight="bold" textLength="86.55" lengthAdjust="spacingAndGlyphs">rate</text>
<text transform="rotate(-90)" x="-521.06" y="714.8" font-family="'Liberation Serif', serif" font-size="38.5" textLength="79.05" lengthAdjust="spacingAndGlyphs">Drug</text>
<text transform="rotate(-90)" x="-430.12" y="714.8" font-family="'Liberation Serif', serif" font-size="38.5" textLength="173.91" lengthAdjust="spacingAndGlyphs">proportion</text>
<text transform="rotate(-90)" x="-242.89" y="714.8" font-family="'Liberation Serif', serif" font-size="38.5" font-style="italic" textLength="24.1" lengthAdjust="spacingAndGlyphs">&#966;</text>
<text x="831.43" y="700" font-family="'Liberation Serif', serif" font-size="39" textLength="79.42" lengthAdjust="spacingAndGlyphs">Dose</text>
<text x="923.48" y="700" font-family="'Liberation Serif', serif" font-size="39" font-style="italic" textLength="16.55" lengthAdjust="spacingAndGlyphs">c</text>
<text x="953.19" y="700" font-family="'Liberation Serif', serif" font-size="39" textLength="133.75" lengthAdjust="spacingAndGlyphs">(relative</text>
<text x="1099.79" y="700" font-family="'Liberation Serif', serif" font-size="39" textLength="32.27" lengthAdjust="spacingAndGlyphs">to</text>
<text x="1146.92" y="700" font-family="'Liberation Serif', serif" font-size="39" font-style="italic" textLength="52.49" lengthAdjust="spacingAndGlyphs">EC</text>
<text x="1229.07" y="700" font-family="'Liberation Serif', serif" font-size="39" textLength="11.4" lengthAdjust="spacingAndGlyphs">)</text>
<text x="1201.28" y="686" font-family="'Liberation Serif', serif" font-size="26" font-style="italic" textLength="15.26" lengthAdjust="spacingAndGlyphs">d</text>
<text x="1200.11" y="709.5" font-family="'Liberation Serif', serif" font-size="27" textLength="27.03" lengthAdjust="spacingAndGlyphs">50</text>
<clipPath id="clipA2"><rect x="1448.4" y="130.7" width="508.9" height="481.4"/></clipPath>
<g clip-path="url(#clipA2)">
<rect x="1448.4" y="130.7" width="508.9" height="481.4" fill="#3e26a8"/>
<rect x="1448.4" y="130.7" width="508.9" height="481.4" fill="#3f29b2"/>
<path d="M1448.4,128.7 1449.7,128.7 1486.2,212.7 1506.2,256.7 1524.4,294.1 1542.4,328.6 1562.4,363.7 1582.4,395.4 1602.4,423.9 1624.4,452.0 1648.4,479.5 1674.4,505.8 1700.4,529.0 1714.4,540.4 1728.4,550.9 1742.4,560.6 1758.4,570.9 1774.4,580.5 1788.4,588.1 1802.4,595.2 1818.4,602.5 1849.4,614.7 1446.4,614.7 1446.4,128.7 1448.4,128.7ZM1890.4,128.7 1960.4,128.7 1960.4,614.7 1940.9,614.7 1945.7,608.7 1949.8,600.7 1953.3,590.7 1956.0,578.7 1957.4,566.7 1957.9,554.7 1957.5,542.7 1956.2,526.7 1950.7,484.7 1942.1,434.7 1933.3,390.7 1909.2,276.7 1898.4,218.7 1892.9,182.7 1888.9,148.7 1888.3,138.7 1888.5,130.7 1888.7,128.7 1890.4,128.7Z" fill="#4551ef" fill-rule="evenodd"/>
<path d="M1447.2,198.7 1462.4,236.7 1476.4,269.5 1492.4,304.6 1508.4,337.5 1524.4,368.1 1540.4,396.7 1558.4,426.5 1576.4,454.0 1592.4,476.7 1612.4,502.8 1632.4,526.6 1650.4,546.2 1669.1,564.7 1689.1,582.7 1708.9,598.7 1731.2,614.7 1446.4,614.7 1446.4,196.8 1447.2,198.7Z" fill="#2f80f9" fill-rule="evenodd"/>
<path d="M1447.2,262.7 1460.4,293.9 1472.4,320.7 1484.4,346.3 1498.4,374.4 1512.4,401.0 1526.4,425.9 1540.4,449.4 1554.4,471.5 1568.4,492.3 1582.4,511.8 1598.4,532.6 1612.4,549.6 1628.4,567.7 1644.4,584.5 1660.4,600.1 1676.7,614.7 1446.4,614.7 1446.4,260.7 1447.2,262.7Z" fill="#1fa5e0" fill-rule="evenodd"/>
<path d="M1446.6,322.7 1467.6,368.7 1488.5,410.7 1510.4,450.8 1533.1,488.7 1556.4,523.7 1580.8,556.7 1605.5,586.7 1631.5,614.7 1446.4,614.7 1446.4,322.1 1446.6,322.7Z" fill="#0bbdbc" fill-rule="evenodd"/>
<path d="M1447.2,384.7 1463.5,418.7 1481.1,452.7 1498.4,483.7 1515.8,512.7 1533.9,540.7 1552.2,566.7 1570.4,590.7 1590.3,614.7 1446.4,614.7 1446.4,383.0 1447.2,384.7Z" fill="#4ecb85" fill-rule="evenodd"/>
<path d="M1447.3,448.7 1472.4,496.6 1496.4,537.7 1508.4,556.7 1522.4,577.7 1536.4,597.5 1549.3,614.7 1446.4,614.7 1446.4,447.0 1447.3,448.7Z" fill="#aec43a" fill-rule="evenodd"/>
<path d="M1447.3,508.7 1463.9,538.7 1479.3,564.7 1495.8,590.7 1512.2,614.7 1446.4,614.7 1446.4,507.0 1447.3,508.7Z" fill="#f9ba3f" fill-rule="evenodd"/>
<path d="M1447.4,572.7 1460.4,594.5 1473.1,614.7 1446.4,614.7 1446.4,570.9 1447.4,572.7Z" fill="#f5e125" fill-rule="evenodd"/>
<path d="M1471.5,128.7 1474.6,136.7 1516.4,228.9 1532.4,262.0 1548.4,293.2 1564.4,321.8 1580.4,347.9 1598.4,374.3 1614.4,395.4 1634.4,418.8 1654.4,439.0 1674.4,456.5 1696.4,472.7 1716.4,485.0 1727.6,490.7 1736.4,494.4 1744.4,497.1 1752.4,499.0 1760.4,500.2 1768.4,500.6 1774.4,500.2 1780.4,499.2 1788.4,496.1 1792.4,493.6 1796.4,490.4 1800.4,486.2 1804.3,480.7 1809.3,470.7 1813.6,456.7 1816.3,440.7 1817.7,422.7 1817.7,400.7 1816.0,374.7 1806.6,298.7 1799.3,232.7 1799.2,216.7 1801.7,190.7 1801.6,180.7 1800.6,174.7 1798.4,167.1 1788.5,144.7 1782.8,128.7M1449.7,128.7 1482.4,204.2 1500.4,244.2 1520.4,286.1 1540.4,324.9 1560.4,360.4 1580.4,392.3 1602.4,423.9 1624.4,452.0 1648.4,479.5 1674.4,505.8 1700.4,529.0 1714.4,540.4 1728.4,550.9 1742.4,560.6 1758.4,570.9 1774.4,580.5 1788.4,588.1 1802.4,595.2 1818.4,602.5 1849.4,614.7M1940.9,614.7 1945.7,608.7 1949.8,600.7 1953.3,590.7 1956.0,578.7 1957.4,566.7 1957.9,554.7 1957.4,540.7 1956.0,524.7 1950.1,480.7 1942.1,434.7 1933.3,390.7 1910.0,280.7 1899.0,222.7 1894.0,190.7 1889.7,156.7 1888.3,140.7 1888.7,128.7M1446.4,226.7 1461.2,262.7 1475.1,294.7 1489.0,324.7 1503.8,354.7 1517.4,380.7 1533.0,408.7 1549.7,436.7 1565.1,460.7 1583.1,486.7 1599.6,508.7 1615.7,528.7 1632.4,547.9 1650.4,566.9 1668.4,584.3 1686.4,600.2 1704.4,614.7M1446.4,322.1 1466.6,366.7 1488.5,410.7 1510.4,450.8 1533.1,488.7 1556.4,523.7 1580.8,556.7 1605.5,586.7 1631.5,614.7M1446.4,414.3 1461.4,444.7 1475.1,470.7 1489.6,496.7 1505.0,522.7 1521.6,548.7 1536.6,570.7 1552.7,592.7 1570.0,614.7M1446.4,507.0 1462.8,536.7 1479.3,564.7 1495.8,590.7 1512.2,614.7M1446.4,596.9 1457.3,614.7" fill="none" stroke="#000" stroke-width="1.1"/>
<path d="M1532.2,128.7 1534.4,142.1 1536.4,150.4 1538.7,156.7 1542.4,162.7 1546.4,166.1 1552.4,168.6 1558.4,169.5 1568.4,170.0 1576.4,169.5 1582.4,167.9 1588.4,164.5 1592.4,160.4 1595.7,154.7 1597.7,148.7 1599.0,140.7 1599.9,128.7M1510.7,128.7 1514.2,148.7 1518.4,162.9 1524.4,175.7 1528.4,182.2 1534.4,189.9 1544.4,199.8 1558.4,210.0 1596.4,234.5 1602.4,237.5 1608.4,238.4 1612.4,237.6 1616.4,235.4 1619.1,232.7 1622.0,228.7 1625.2,222.7 1628.4,214.8 1633.4,198.7 1636.4,184.4 1638.0,168.7 1638.1,156.7 1636.6,128.7M1500.2,128.7 1504.4,142.5 1510.0,158.7 1514.4,169.4 1518.4,177.7 1524.4,188.4 1532.4,200.9 1542.4,215.0 1550.4,225.3 1560.4,237.0 1572.4,249.6 1586.4,262.7 1604.4,278.4 1614.4,286.2 1622.4,291.2 1628.4,293.9 1634.4,295.1 1638.4,294.5 1642.4,292.6 1646.4,288.9 1650.4,283.1 1654.4,275.0 1658.3,264.7 1661.2,254.7 1663.3,244.7 1665.4,228.7 1666.0,212.7 1665.8,196.7 1664.0,154.7 1664.1,128.7M1493.6,128.7 1496.4,136.9 1508.4,166.1 1520.4,190.6 1534.4,215.3 1546.4,235.1 1556.4,250.1 1566.4,263.5 1578.4,277.7 1590.4,290.5 1604.4,303.9 1618.4,316.0 1632.4,326.8 1642.4,333.3 1652.4,337.8 1660.4,339.5 1666.4,338.8 1670.9,336.7 1675.4,332.7 1679.7,326.7 1683.5,318.7 1687.7,306.7 1690.4,295.8 1692.3,284.7 1693.5,268.7 1693.1,248.7 1691.5,230.7 1686.4,186.9 1685.1,168.7 1685.1,152.7 1686.6,128.7M1488.4,128.7 1492.4,138.7 1510.4,178.6 1534.4,225.2 1544.4,243.0 1554.4,259.4 1564.4,274.2 1574.4,287.5 1588.4,304.2 1602.4,318.7 1618.4,333.5 1638.4,350.3 1654.4,362.6 1668.4,371.7 1676.4,375.1 1684.4,376.3 1690.4,375.7 1694.4,374.4 1697.4,372.7 1702.4,368.4 1707.7,360.7 1712.0,350.7 1715.0,340.7 1717.9,326.7 1719.7,312.7 1720.4,300.7 1720.4,288.7 1718.6,256.7 1709.2,160.7 1705.0,128.7M1484.2,128.7 1488.4,138.7 1512.4,189.9 1528.4,222.2 1540.4,245.0 1552.4,266.1 1566.4,288.9 1578.4,306.7 1590.4,322.9 1604.4,339.7 1618.4,354.4 1634.4,369.4 1652.4,384.3 1666.4,394.2 1682.4,403.4 1694.4,408.6 1700.4,410.3 1704.4,410.7 1710.4,409.9 1714.4,408.6 1720.4,405.0 1725.0,400.7 1729.4,394.7 1732.6,388.7 1735.6,380.7 1737.7,372.7 1740.1,356.7 1740.8,336.7 1740.2,318.7 1737.1,274.7 1737.2,254.7 1738.2,244.7 1739.6,236.7 1748.6,202.7 1750.0,194.7 1750.6,188.7 1750.6,182.7 1749.9,176.7 1748.6,170.7 1746.3,164.7 1744.2,160.7 1740.1,154.7 1726.4,138.3 1722.8,132.7 1720.8,128.7M1480.5,128.7 1483.8,136.7 1520.4,213.7 1546.4,264.6 1560.4,289.9 1574.4,313.3 1588.4,334.5 1600.4,351.0 1616.4,370.5 1630.4,385.4 1646.4,400.2 1664.4,414.6 1680.4,425.5 1694.4,433.0 1706.4,437.3 1712.4,438.6 1718.4,439.0 1726.4,438.2 1730.4,437.0 1734.4,435.1 1738.4,432.5 1742.4,429.0 1748.4,421.9 1754.4,411.6 1758.6,400.7 1761.4,388.7 1763.0,374.7 1763.2,360.7 1762.5,346.7 1755.8,290.7 1755.0,278.7 1755.0,268.7 1755.7,258.7 1757.3,248.7 1765.3,220.7 1767.8,208.7 1768.8,196.7 1768.3,182.7 1767.1,174.7 1765.1,166.7 1762.4,159.5 1759.8,154.7 1753.9,146.7 1741.4,134.7 1736.4,128.7M1477.2,128.7 1480.4,136.5 1522.4,225.7 1538.4,258.0 1552.4,284.9 1566.4,310.1 1580.4,333.1 1594.4,353.9 1608.4,372.7 1624.4,391.9 1642.4,410.6 1660.4,426.6 1676.4,438.7 1692.4,448.6 1700.4,452.8 1708.4,456.2 1722.4,460.5 1730.4,461.7 1736.4,462.0 1744.4,461.0 1748.4,459.5 1752.4,457.2 1760.4,450.4 1768.4,440.5 1774.4,430.2 1779.1,418.7 1782.4,405.1 1784.0,390.7 1784.1,376.7 1783.1,360.7 1781.0,342.7 1775.0,300.7 1773.3,278.7 1773.3,268.7 1774.0,258.7 1778.9,228.7 1780.2,216.7 1780.1,202.7 1778.5,184.7 1775.4,166.7 1773.1,158.7 1770.4,151.9 1767.7,146.7 1763.7,140.7 1752.9,128.7M1474.2,128.7 1478.4,138.7 1518.4,225.4 1536.4,262.4 1550.4,289.6 1564.4,314.9 1580.4,341.2 1596.4,364.9 1610.4,383.7 1628.4,405.2 1646.4,424.0 1664.4,440.3 1682.4,454.1 1692.4,460.8 1702.4,466.7 1720.4,475.6 1730.4,479.4 1738.4,481.7 1746.4,483.2 1752.4,483.4 1758.4,482.9 1762.4,482.0 1770.4,478.5 1774.4,475.8 1778.4,472.3 1782.4,467.9 1786.4,462.3 1792.6,450.7 1797.5,436.7 1800.4,422.7 1802.0,406.7 1802.2,392.7 1801.4,376.7 1793.4,304.7 1789.8,258.7 1789.4,232.7 1791.6,194.7 1790.9,182.7 1788.5,170.7 1784.4,158.7 1778.4,145.9 1769.4,128.7" fill="none" stroke="#000" stroke-width="1.25" stroke-dasharray="1.3 2.3"/>
</g>
<polyline points="1561.1,130.7 1562.3,133.7 1563.5,136.7 1564.8,139.8 1566.0,142.8 1567.2,145.8 1568.4,148.8 1569.6,151.8 1570.8,154.9 1572.0,157.9 1573.2,160.9 1574.3,163.9 1575.5,166.9 1576.7,170.0 1577.9,173.0 1579.0,176.0 1580.2,179.0 1581.4,182.1 1582.6,185.1 1583.7,188.1 1584.9,191.1 1586.1,194.1 1587.2,197.2 1588.4,200.2 1589.6,203.2 1590.8,206.2 1592.0,209.2 1593.1,212.3 1594.3,215.3 1595.5,218.3 1596.7,221.3 1597.9,224.3 1599.1,227.4 1600.4,230.4 1601.6,233.4 1602.8,236.4 1604.1,239.4 1605.3,242.5 1606.6,245.5 1607.9,248.5 1609.1,251.5 1610.4,254.5 1611.7,257.6 1613.0,260.6 1614.4,263.6 1615.7,266.6 1617.0,269.6 1618.4,272.7 1619.8,275.7 1621.2,278.7 1622.6,281.7 1624.0,284.8 1625.4,287.8 1626.9,290.8 1628.3,293.8 1629.8,296.8 1631.3,299.9 1632.8,302.9 1634.4,305.9 1635.9,308.9 1637.5,311.9 1639.1,315.0 1640.7,318.0 1642.4,321.0 1644.0,324.0 1645.7,327.0 1647.4,330.1 1649.1,333.1 1650.8,336.1 1652.6,339.1 1654.4,342.1 1656.2,345.2 1658.1,348.2 1659.9,351.2 1661.8,354.2 1663.7,357.2 1665.7,360.3 1667.6,363.3 1669.6,366.3 1671.6,369.3 1673.7,372.3 1675.7,375.4 1677.8,378.4 1679.9,381.4 1682.1,384.4 1684.2,387.5 1686.4,390.5 1688.6,393.5 1690.9,396.5 1693.1,399.5 1695.4,402.6 1697.7,405.6 1700.0,408.6 1702.4,411.6 1704.8,414.6 1707.2,417.7 1709.6,420.7 1712.0,423.7 1714.5,426.7 1717.0,429.7 1719.5,432.8 1722.0,435.8 1724.6,438.8 1727.2,441.8 1729.8,444.8 1732.4,447.9 1735.0,450.9 1737.7,453.9 1740.4,456.9 1743.1,459.9 1745.8,463.0 1748.6,466.0 1751.3,469.0 1754.1,472.0 1757.0,475.1 1759.8,478.1 1762.6,481.1 1765.5,484.1 1768.4,487.1 1771.3,490.2 1774.3,493.2 1777.2,496.2 1780.2,499.2 1783.2,502.2 1786.2,505.3 1789.2,508.3 1792.3,511.3 1795.4,514.3 1798.4,517.3 1801.5,520.4 1804.6,523.4 1807.8,526.4 1810.9,529.4 1814.0,532.4 1817.2,535.5 1820.4,538.5 1823.5,541.5 1826.7,544.5 1829.8,547.5 1833.0,550.6 1836.2,553.6 1839.3,556.6 1842.5,559.6 1845.6,562.6 1848.8,565.7 1851.9,568.7 1855.1,571.7 1858.2,574.7 1861.3,577.8 1864.4,580.8 1867.4,583.8 1870.5,586.8 1873.4,589.8 1876.2,592.9 1879.0,595.9 1881.5,598.9 1883.9,601.9 1886.0,604.9 1887.9,608.0 1889.6,611.0 1890.9,614.0" fill="none" stroke="#d40000" stroke-width="6" stroke-linejoin="round"/>
<circle cx="1561.3" cy="130.7" r="9.5" fill="#ff0000"/>
<line x1="1448.4" y1="130.7" x2="1957.3" y2="130.7" stroke="#262626" stroke-width="1.35" stroke-opacity="0.8"/>
<line x1="1448.4" y1="612.1" x2="1957.3" y2="612.1" stroke="#262626" stroke-width="1.35" stroke-opacity="0.8"/>
<line x1="1448.4" y1="130.7" x2="1448.4" y2="612.1" stroke="#262626" stroke-width="1.35" stroke-opacity="0.8"/>
<line x1="1957.3" y1="130.7" x2="1957.3" y2="612.1" stroke="#262626" stroke-width="1.35" stroke-opacity="0.8"/>
<line x1="1448.4" y1="130.7" x2="1453.6" y2="130.7" stroke="#262626" stroke-width="1.35" stroke-opacity="0.8"/>
<line x1="1957.3" y1="130.7" x2="1952.1" y2="130.7" stroke="#262626" stroke-width="1.35" stroke-opacity="0.8"/>
<line x1="1448.4" y1="251.05" x2="1453.6" y2="251.05" stroke="#262626" stroke-width="1.35" stroke-opacity="0.8"/>
<line x1="1957.3" y1="251.05" x2="1952.1" y2="251.05" stroke="#262626" stroke-width="1.35" stroke-opacity="0.8"/>
<line x1="1448.4" y1="371.4" x2="1453.6" y2="371.4" stroke="#262626" stroke-width="1.35" stroke-opacity="0.8"/>
<line x1="1957.3" y1="371.4" x2="1952.1" y2="371.4" stroke="#262626" stroke-width="1.35" stroke-opacity="0.8"/>
<line x1="1448.4" y1="491.75" x2="1453.6" y2="491.75" stroke="#262626" stroke-width="1.35" stroke-opacity="0.8"/>
<line x1="1957.3" y1="491.75" x2="1952.1" y2="491.75" stroke="#262626" stroke-width="1.35" stroke-opacity="0.8"/>
<line x1="1448.4" y1="612.1" x2="1453.6" y2="612.1" stroke="#262626" stroke-width="1.35" stroke-opacity="0.8"/>
<line x1="1957.3" y1="612.1" x2="1952.1" y2="612.1" stroke="#262626" stroke-width="1.35" stroke-opacity="0.8"/>
<line x1="1601.59" y1="612.1" x2="1601.59" y2="608.98" stroke="#262626" stroke-width="1.1" stroke-opacity="0.8"/>
<line x1="1601.59" y1="130.7" x2="1601.59" y2="133.82" stroke="#262626" stroke-width="1.1" stroke-opacity="0.8"/>
<line x1="1691.21" y1="612.1" x2="1691.21" y2="608.98" stroke="#262626" stroke-width="1.1" stroke-opacity="0.8"/>
<line x1="1691.21" y1="130.7" x2="1691.21" y2="133.82" stroke="#262626" stroke-width="1.1" stroke-opacity="0.8"/>
<line x1="1754.79" y1="612.1" x2="1754.79" y2="608.98" stroke="#262626" stroke-width="1.1" stroke-opacity="0.8"/>
<line x1="1754.79" y1="130.7" x2="1754.79" y2="133.82" stroke="#262626" stroke-width="1.1" stroke-opacity="0.8"/>
<line x1="1804.11" y1="612.1" x2="1804.11" y2="608.98" stroke="#262626" stroke-width="1.1" stroke-opacity="0.8"/>
<line x1="1804.11" y1="130.7" x2="1804.11" y2="133.82" stroke="#262626" stroke-width="1.1" stroke-opacity="0.8"/>
<line x1="1844.4" y1="612.1" x2="1844.4" y2="608.98" stroke="#262626" stroke-width="1.1" stroke-opacity="0.8"/>
<line x1="1844.4" y1="130.7" x2="1844.4" y2="133.82" stroke="#262626" stroke-width="1.1" stroke-opacity="0.8"/>
<line x1="1878.47" y1="612.1" x2="1878.47" y2="608.98" stroke="#262626" stroke-width="1.1" stroke-opacity="0.8"/>
<line x1="1878.47" y1="130.7" x2="1878.47" y2="133.82" stroke="#262626" stroke-width="1.1" stroke-opacity="0.8"/>
<line x1="1907.98" y1="612.1" x2="1907.98" y2="608.98" stroke="#262626" stroke-width="1.1" stroke-opacity="0.8"/>
<line x1="1907.98" y1="130.7" x2="1907.98" y2="133.82" stroke="#262626" stroke-width="1.1" stroke-opacity="0.8"/>
<line x1="1934.01" y1="612.1" x2="1934.01" y2="608.98" stroke="#262626" stroke-width="1.1" stroke-opacity="0.8"/>
<line x1="1934.01" y1="130.7" x2="1934.01" y2="133.82" stroke="#262626" stroke-width="1.1" stroke-opacity="0.8"/>
<text x="1421.67" y="142.3" font-family="'Liberation Sans', Arial, sans-serif" font-size="27.7" fill="#1a1a1a">1</text>
<text x="1398.54" y="262.65" font-family="'Liberation Sans', Arial, sans-serif" font-size="27.7" fill="#1a1a1a">0.9</text>
<text x="1398.41" y="383" font-family="'Liberation Sans', Arial, sans-serif" font-size="27.7" fill="#1a1a1a">0.8</text>
<text x="1398.54" y="503.35" font-family="'Liberation Sans', Arial, sans-serif" font-size="27.7" fill="#1a1a1a">0.7</text>
<text x="1398.41" y="623.7" font-family="'Liberation Sans', Arial, sans-serif" font-size="27.7" fill="#1a1a1a">0.6</text>
<text x="1426.34" y="657.8" font-family="'Liberation Sans', Arial, sans-serif" font-size="27.7" fill="#1a1a1a" textLength="29.03" lengthAdjust="spacingAndGlyphs">10</text>
<text x="1456.25" y="644.7" font-family="'Liberation Sans', Arial, sans-serif" font-size="22" fill="#1a1a1a" textLength="11.93" lengthAdjust="spacingAndGlyphs">0</text>
<text x="1935.73" y="657.8" font-family="'Liberation Sans', Arial, sans-serif" font-size="27.7" fill="#1a1a1a" textLength="29.25" lengthAdjust="spacingAndGlyphs">10</text>
<text x="1966.64" y="644.7" font-family="'Liberation Sans', Arial, sans-serif" font-size="22" fill="#1a1a1a" textLength="9.33" lengthAdjust="spacingAndGlyphs">1</text>
<text x="1469.49" y="102.3" font-family="'Liberation Serif', serif" font-size="45.3" font-weight="bold" textLength="195.3" lengthAdjust="spacingAndGlyphs">Long-run</text>
<text x="1680.97" y="102.3" font-family="'Liberation Serif', serif" font-size="45.3" font-weight="bold" textLength="149.83" lengthAdjust="spacingAndGlyphs">growth</text>
<text x="1846.94" y="102.3" font-family="'Liberation Serif', serif" font-size="45.3" font-weight="bold" textLength="86.55" lengthAdjust="spacingAndGlyphs">rate</text>
<text transform="rotate(-90)" x="-521.06" y="1380.7" font-family="'Liberation Serif', serif" font-size="38.5" textLength="79.05" lengthAdjust="spacingAndGlyphs">Drug</text>
<text transform="rotate(-90)" x="-430.12" y="1380.7" font-family="'Liberation Serif', serif" font-size="38.5" textLength="173.91" lengthAdjust="spacingAndGlyphs">proportion</text>
<text transform="rotate(-90)" x="-242.89" y="1380.7" font-family="'Liberation Serif', serif" font-size="38.5" font-style="italic" textLength="24.1" lengthAdjust="spacingAndGlyphs">&#966;</text>
<text x="1497.33" y="700" font-family="'Liberation Serif', serif" font-size="39" textLength="79.42" lengthAdjust="spacingAndGlyphs">Dose</text>
<text x="1589.38" y="700" font-family="'Liberation Serif', serif" font-size="39" font-style="italic" textLength="16.55" lengthAdjust="spacingAndGlyphs">c</text>
<text x="1619.09" y="700" font-family="'Liberation Serif', serif" font-size="39" textLength="133.75" lengthAdjust="spacingAndGlyphs">(relative</text>
<text x="1765.69" y="700" font-family="'Liberation Serif', serif" font-size="39" textLength="32.27" lengthAdjust="spacingAndGlyphs">to</text>
<text x="1812.82" y="700" font-family="'Liberation Serif', serif" font-size="39" font-style="italic" textLength="52.49" lengthAdjust="spacingAndGlyphs">EC</text>
<text x="1894.97" y="700" font-family="'Liberation Serif', serif" font-size="39" textLength="11.4" lengthAdjust="spacingAndGlyphs">)</text>
<text x="1867.18" y="686" font-family="'Liberation Serif', serif" font-size="26" font-style="italic" textLength="15.26" lengthAdjust="spacingAndGlyphs">d</text>
<text x="1866.01" y="709.5" font-family="'Liberation Serif', serif" font-size="27" textLength="27.03" lengthAdjust="spacingAndGlyphs">50</text>
<line x1="106.1" y1="811.3" x2="625" y2="811.3" stroke="#262626" stroke-width="1.35" stroke-opacity="0.8"/>
<line x1="106.1" y1="1148" x2="625" y2="1148" stroke="#262626" stroke-width="1.35" stroke-opacity="0.8"/>
<line x1="106.1" y1="811.3" x2="106.1" y2="1148" stroke="#262626" stroke-width="1.35" stroke-opacity="0.8"/>
<line x1="625" y1="811.3" x2="625" y2="1148" stroke="#262626" stroke-width="1.35" stroke-opacity="0.8"/>
<line x1="106.1" y1="1148" x2="106.1" y2="1142.8" stroke="#262626" stroke-width="1.35" stroke-opacity="0.8"/>
<line x1="106.1" y1="811.3" x2="106.1" y2="816.5" stroke="#262626" stroke-width="1.35" stroke-opacity="0.8"/>
<line x1="235.82" y1="1148" x2="235.82" y2="1142.8" stroke="#262626" stroke-width="1.35" stroke-opacity="0.8"/>
<line x1="235.82" y1="811.3" x2="235.82" y2="816.5" stroke="#262626" stroke-width="1.35" stroke-opacity="0.8"/>
<line x1="365.55" y1="1148" x2="365.55" y2="1142.8" stroke="#262626" stroke-width="1.35" stroke-opacity="0.8"/>
<line x1="365.55" y1="811.3" x2="365.55" y2="816.5" stroke="#262626" stroke-width="1.35" stroke-opacity="0.8"/>
<line x1="495.27" y1="1148" x2="495.27" y2="1142.8" stroke="#262626" stroke-width="1.35" stroke-opacity="0.8"/>
<line x1="495.27" y1="811.3" x2="495.27" y2="816.5" stroke="#262626" stroke-width="1.35" stroke-opacity="0.8"/>
<line x1="625" y1="1148" x2="625" y2="1142.8" stroke="#262626" stroke-width="1.35" stroke-opacity="0.8"/>
<line x1="625" y1="811.3" x2="625" y2="816.5" stroke="#262626" stroke-width="1.35" stroke-opacity="0.8"/>
<line x1="106.1" y1="811.3" x2="111.3" y2="811.3" stroke="#262626" stroke-width="1.35" stroke-opacity="0.8"/>
<line x1="625" y1="811.3" x2="619.8" y2="811.3" stroke="#262626" stroke-width="1.35" stroke-opacity="0.8"/>
<line x1="106.1" y1="923.53" x2="111.3" y2="923.53" stroke="#262626" stroke-width="1.35" stroke-opacity="0.8"/>
<line x1="625" y1="923.53" x2="619.8" y2="923.53" stroke="#262626" stroke-width="1.35" stroke-opacity="0.8"/>
<line x1="106.1" y1="1035.77" x2="111.3" y2="1035.77" stroke="#262626" stroke-width="1.35" stroke-opacity="0.8"/>
<line x1="625" y1="1035.77" x2="619.8" y2="1035.77" stroke="#262626" stroke-width="1.35" stroke-opacity="0.8"/>
<line x1="106.1" y1="1148" x2="111.3" y2="1148" stroke="#262626" stroke-width="1.35" stroke-opacity="0.8"/>
<line x1="625" y1="1148" x2="619.8" y2="1148" stroke="#262626" stroke-width="1.35" stroke-opacity="0.8"/>
<text x="81.1" y="822.1" font-family="'Liberation Sans', Arial, sans-serif" font-size="27.7" fill="#1a1a1a">0</text>
<text x="72.09" y="934.33" font-family="'Liberation Sans', Arial, sans-serif" font-size="27.7" fill="#1a1a1a">-1</text>
<text x="72.09" y="1046.57" font-family="'Liberation Sans', Arial, sans-serif" font-size="27.7" fill="#1a1a1a">-2</text>
<text x="71.95" y="1158.8" font-family="'Liberation Sans', Arial, sans-serif" font-size="27.7" fill="#1a1a1a">-3</text>
<text x="86.92" y="1185.7" font-family="'Liberation Sans', Arial, sans-serif" font-size="27.7" fill="#1a1a1a">0.6</text>
<text x="216.71" y="1185.7" font-family="'Liberation Sans', Arial, sans-serif" font-size="27.7" fill="#1a1a1a">0.7</text>
<text x="346.37" y="1185.7" font-family="'Liberation Sans', Arial, sans-serif" font-size="27.7" fill="#1a1a1a">0.8</text>
<text x="476.16" y="1185.7" font-family="'Liberation Sans', Arial, sans-serif" font-size="27.7" fill="#1a1a1a">0.9</text>
<text x="616.9" y="1185.7" font-family="'Liberation Sans', Arial, sans-serif" font-size="27.7" fill="#1a1a1a">1</text>
<text x="107.92" y="803.8" font-family="'Liberation Sans', Arial, sans-serif" font-size="27.5" fill="#1a1a1a" textLength="17.78" lengthAdjust="spacingAndGlyphs">&#215;</text>
<text x="127.99" y="804.5" font-family="'Liberation Sans', Arial, sans-serif" font-size="28" fill="#1a1a1a" textLength="29.81" lengthAdjust="spacingAndGlyphs">10</text>
<text x="157.82" y="791.7" font-family="'Liberation Sans', Arial, sans-serif" font-size="22.4" fill="#1a1a1a" textLength="19.65" lengthAdjust="spacingAndGlyphs">-3</text>
<polyline points="106.1,917.6 110.5,924.5 114.8,931.0 119.2,937.4 123.5,943.4 127.9,949.2 132.3,954.8 136.6,960.2 141.0,965.3 145.3,970.3 149.7,975.0 154.1,979.6 158.4,984.0 162.8,988.2 167.1,992.2 171.5,996.1 175.9,999.9 180.2,1003.5 184.6,1006.9 188.9,1010.3 193.3,1013.5 197.7,1016.5 202.0,1019.5 206.4,1022.4 210.8,1025.1 215.1,1027.7 219.5,1030.3 223.8,1032.8 228.2,1035.1 232.6,1037.4 236.9,1039.6 241.3,1041.7 245.6,1043.8 250.0,1045.7 254.4,1047.6 258.7,1049.5 263.1,1051.2 267.4,1052.9 271.8,1054.6 276.2,1056.2 280.5,1057.7 284.9,1059.2 289.2,1060.7 293.6,1062.1 298.0,1063.4 302.3,1064.7 306.7,1066.0 311.0,1067.2 315.4,1068.4 319.8,1069.5 324.1,1070.7 328.5,1071.7 332.8,1072.8 337.2,1073.8 341.6,1074.8 345.9,1075.8 350.3,1076.7 354.6,1077.6 359.0,1078.5 363.4,1079.4 367.7,1080.2 372.1,1081.0 376.5,1081.8 380.8,1082.6 385.2,1083.4 389.5,1084.1 393.9,1084.8 398.3,1085.5 402.6,1086.2 407.0,1086.9 411.3,1087.6 415.7,1088.2 420.1,1088.8 424.4,1089.5 428.8,1090.1 433.1,1090.7 437.5,1091.3 441.9,1091.9 446.2,1092.4 450.6,1093.0 454.9,1093.5 459.3,1094.1 463.7,1094.6 468.0,1095.1 472.4,1095.7 476.7,1096.2 481.1,1096.7 485.5,1097.2 489.8,1097.7 494.2,1098.2 498.5,1098.6 502.9,1099.1 507.3,1099.6 511.6,1100.1 516.0,1100.5 520.3,1101.0 524.7,1101.4 529.1,1101.9 533.4,1102.4 537.8,1102.8 542.2,1103.2 546.5,1103.7 550.9,1104.1 555.2,1104.6 559.6,1105.0 564.0,1105.4 568.3,1105.8 572.7,1106.3 577.0,1106.7 581.4,1107.1 585.8,1107.5 590.1,1108.0 594.5,1108.4 598.8,1108.8 603.2,1109.2 607.6,1109.6 611.9,1110.1 616.3,1110.5 620.6,1110.9 625.0,1111.3" fill="none" stroke="#4a68a8" stroke-width="5.6" stroke-linejoin="round"/>
<rect x="186.8" y="827.3" width="423.2" height="50.3" fill="#fff" stroke="#262626" stroke-width="1.3" stroke-opacity="0.8"/>
<line x1="191.9" y1="852.4" x2="251.3" y2="852.4" stroke="#4a68a8" stroke-width="6.2"/>
<text x="254.92" y="861.6" font-family="'Liberation Serif', serif" font-size="38.3" textLength="148.04" lengthAdjust="spacingAndGlyphs">Long-run</text>
<text x="414.41" y="861.6" font-family="'Liberation Serif', serif" font-size="38.3" textLength="112.91" lengthAdjust="spacingAndGlyphs">growth</text>
<text x="539.83" y="861.6" font-family="'Liberation Serif', serif" font-size="38.3" textLength="65.23" lengthAdjust="spacingAndGlyphs">rate</text>
<text x="214.92" y="1226.1" font-family="'Liberation Serif', serif" font-size="38.5" textLength="80.68" lengthAdjust="spacingAndGlyphs">Drug</text>
<text x="307.99" y="1226.1" font-family="'Liberation Serif', serif" font-size="38.5" textLength="171.49" lengthAdjust="spacingAndGlyphs">proportion</text>
<text x="491.41" y="1226.1" font-family="'Liberation Serif', serif" font-size="38.5" font-style="italic" textLength="24.21" lengthAdjust="spacingAndGlyphs">&#966;</text>
<line x1="106.1" y1="1335.4" x2="625" y2="1335.4" stroke="#262626" stroke-width="1.35" stroke-opacity="0.8"/>
<line x1="106.1" y1="1671.8" x2="625" y2="1671.8" stroke="#262626" stroke-width="1.35" stroke-opacity="0.8"/>
<line x1="106.1" y1="1335.4" x2="106.1" y2="1671.8" stroke="#262626" stroke-width="1.35" stroke-opacity="0.8"/>
<line x1="625" y1="1335.4" x2="625" y2="1671.8" stroke="#262626" stroke-width="1.35" stroke-opacity="0.8"/>
<line x1="106.1" y1="1671.8" x2="106.1" y2="1666.6" stroke="#262626" stroke-width="1.35" stroke-opacity="0.8"/>
<line x1="106.1" y1="1335.4" x2="106.1" y2="1340.6" stroke="#262626" stroke-width="1.35" stroke-opacity="0.8"/>
<line x1="235.82" y1="1671.8" x2="235.82" y2="1666.6" stroke="#262626" stroke-width="1.35" stroke-opacity="0.8"/>
<line x1="235.82" y1="1335.4" x2="235.82" y2="1340.6" stroke="#262626" stroke-width="1.35" stroke-opacity="0.8"/>
<line x1="365.55" y1="1671.8" x2="365.55" y2="1666.6" stroke="#262626" stroke-width="1.35" stroke-opacity="0.8"/>
<line x1="365.55" y1="1335.4" x2="365.55" y2="1340.6" stroke="#262626" stroke-width="1.35" stroke-opacity="0.8"/>
<line x1="495.27" y1="1671.8" x2="495.27" y2="1666.6" stroke="#262626" stroke-width="1.35" stroke-opacity="0.8"/>
<line x1="495.27" y1="1335.4" x2="495.27" y2="1340.6" stroke="#262626" stroke-width="1.35" stroke-opacity="0.8"/>
<line x1="625" y1="1671.8" x2="625" y2="1666.6" stroke="#262626" stroke-width="1.35" stroke-opacity="0.8"/>
<line x1="625" y1="1335.4" x2="625" y2="1340.6" stroke="#262626" stroke-width="1.35" stroke-opacity="0.8"/>
<line x1="106.1" y1="1335.4" x2="111.3" y2="1335.4" stroke="#262626" stroke-width="1.35" stroke-opacity="0.8"/>
<line x1="625" y1="1335.4" x2="619.8" y2="1335.4" stroke="#262626" stroke-width="1.35" stroke-opacity="0.8"/>
<line x1="106.1" y1="1415.5" x2="111.3" y2="1415.5" stroke="#262626" stroke-width="1.35" stroke-opacity="0.8"/>
<line x1="625" y1="1415.5" x2="619.8" y2="1415.5" stroke="#262626" stroke-width="1.35" stroke-opacity="0.8"/>
<line x1="106.1" y1="1495.59" x2="111.3" y2="1495.59" stroke="#262626" stroke-width="1.35" stroke-opacity="0.8"/>
<line x1="625" y1="1495.59" x2="619.8" y2="1495.59" stroke="#262626" stroke-width="1.35" stroke-opacity="0.8"/>
<line x1="106.1" y1="1575.69" x2="111.3" y2="1575.69" stroke="#262626" stroke-width="1.35" stroke-opacity="0.8"/>
<line x1="625" y1="1575.69" x2="619.8" y2="1575.69" stroke="#262626" stroke-width="1.35" stroke-opacity="0.8"/>
<line x1="106.1" y1="1655.78" x2="111.3" y2="1655.78" stroke="#262626" stroke-width="1.35" stroke-opacity="0.8"/>
<line x1="625" y1="1655.78" x2="619.8" y2="1655.78" stroke="#262626" stroke-width="1.35" stroke-opacity="0.8"/>
<text x="81.23" y="1346.2" font-family="'Liberation Sans', Arial, sans-serif" font-size="27.7" fill="#1a1a1a">3</text>
<text x="58.11" y="1426.3" font-family="'Liberation Sans', Arial, sans-serif" font-size="27.7" fill="#1a1a1a">2.5</text>
<text x="81.37" y="1506.39" font-family="'Liberation Sans', Arial, sans-serif" font-size="27.7" fill="#1a1a1a">2</text>
<text x="58.11" y="1586.49" font-family="'Liberation Sans', Arial, sans-serif" font-size="27.7" fill="#1a1a1a">1.5</text>
<text x="81.37" y="1666.58" font-family="'Liberation Sans', Arial, sans-serif" font-size="27.7" fill="#1a1a1a">1</text>
<text x="86.92" y="1709.3" font-family="'Liberation Sans', Arial, sans-serif" font-size="27.7" fill="#1a1a1a">0.6</text>
<text x="216.71" y="1709.3" font-family="'Liberation Sans', Arial, sans-serif" font-size="27.7" fill="#1a1a1a">0.7</text>
<text x="346.37" y="1709.3" font-family="'Liberation Sans', Arial, sans-serif" font-size="27.7" fill="#1a1a1a">0.8</text>
<text x="476.16" y="1709.3" font-family="'Liberation Sans', Arial, sans-serif" font-size="27.7" fill="#1a1a1a">0.9</text>
<text x="616.9" y="1709.3" font-family="'Liberation Sans', Arial, sans-serif" font-size="27.7" fill="#1a1a1a">1</text>
<polyline points="106.1,1523.1 154.6,1505.1 158.6,1509.4 162.5,1513.6 166.5,1517.6 170.4,1521.5 174.4,1525.3 178.3,1528.9 182.3,1532.4 186.2,1535.9 190.2,1539.2 194.1,1542.3 198.1,1545.4 202.1,1548.4 206.0,1551.3 210.0,1554.1 213.9,1556.8 217.9,1559.5 221.8,1562.0 225.8,1564.5 229.7,1566.9 233.7,1569.2 237.6,1571.5 241.6,1573.7 245.5,1575.8 249.5,1577.9 253.4,1579.9 257.4,1581.8 261.3,1583.7 265.3,1585.5 269.2,1587.3 273.2,1589.1 277.2,1590.8 281.1,1592.4 285.1,1594.0 289.0,1595.5 293.0,1597.1 296.9,1598.5 300.9,1600.0 304.8,1601.4 308.8,1602.7 312.7,1604.1 316.7,1605.4 320.6,1606.6 324.6,1607.9 328.5,1609.1 332.5,1610.2 336.4,1611.4 340.4,1612.5 344.4,1613.6 348.3,1614.6 352.3,1615.7 356.2,1616.7 360.2,1617.7 364.1,1618.7 368.1,1619.6 372.0,1620.6 376.0,1621.5 379.9,1622.4 383.9,1623.2 387.8,1624.1 391.8,1624.9 395.7,1625.7 399.7,1626.5 403.6,1627.3 407.6,1628.1 411.5,1628.9 415.5,1629.6 419.5,1630.3 423.4,1631.1 427.4,1631.8 431.3,1632.4 435.3,1633.1 439.2,1633.8 443.2,1634.4 447.1,1635.1 451.1,1635.7 455.0,1636.3 459.0,1636.9 462.9,1637.5 466.9,1638.1 470.8,1638.7 474.8,1639.3 478.7,1639.8 482.7,1640.4 486.7,1640.9 490.6,1641.4 494.6,1642.0 498.5,1642.5 502.5,1643.0 506.4,1643.5 510.4,1644.0 514.3,1644.5 518.3,1645.0 522.2,1645.4 526.2,1645.9 530.1,1646.4 534.1,1646.8 538.0,1647.3 542.0,1647.7 545.9,1648.1 549.9,1648.6 553.8,1649.0 557.8,1649.4 561.8,1649.8 565.7,1650.2 569.7,1650.6 573.6,1651.0 577.6,1651.4 581.5,1651.8 585.5,1652.2 589.4,1652.6 593.4,1652.9 597.3,1653.3 601.3,1653.7 605.2,1654.0 609.2,1654.4 613.1,1654.7 617.1,1655.1 621.0,1655.4 625.0,1655.8" fill="none" stroke="#4a68a8" stroke-width="5.6" stroke-linejoin="round"/>
<rect x="164.3" y="1358.6" width="439" height="104.6" fill="#fff" stroke="#262626" stroke-width="1.3" stroke-opacity="0.8"/>
<line x1="170.8" y1="1382.5" x2="229.4" y2="1382.5" stroke="#4a68a8" stroke-width="6.2"/>
<text x="240.69" y="1393.3" font-family="'Liberation Serif', serif" font-size="38.3" textLength="139.68" lengthAdjust="spacingAndGlyphs">Average</text>
<text x="391.93" y="1393.3" font-family="'Liberation Serif', serif" font-size="38.3" textLength="77.06" lengthAdjust="spacingAndGlyphs">dose</text>
<text x="240.89" y="1443.1" font-family="'Liberation Serif', serif" font-size="38.3" textLength="142.04" lengthAdjust="spacingAndGlyphs">(relative</text>
<text x="396.77" y="1443.1" font-family="'Liberation Serif', serif" font-size="38.3" textLength="35.21" lengthAdjust="spacingAndGlyphs">to</text>
<text x="443.27" y="1443.1" font-family="'Liberation Serif', serif" font-size="38.3" textLength="148.22" lengthAdjust="spacingAndGlyphs">optimal)</text>
<text x="214.92" y="1749" font-family="'Liberation Serif', serif" font-size="38.5" textLength="80.68" lengthAdjust="spacingAndGlyphs">Drug</text>
<text x="307.99" y="1749" font-family="'Liberation Serif', serif" font-size="38.5" textLength="171.49" lengthAdjust="spacingAndGlyphs">proportion</text>
<text x="491.41" y="1749" font-family="'Liberation Serif', serif" font-size="38.5" font-style="italic" textLength="24.21" lengthAdjust="spacingAndGlyphs">&#966;</text>
<line x1="776.6" y1="811.3" x2="1296.3" y2="811.3" stroke="#262626" stroke-width="1.35" stroke-opacity="0.8"/>
<line x1="776.6" y1="1148" x2="1296.3" y2="1148" stroke="#262626" stroke-width="1.35" stroke-opacity="0.8"/>
<line x1="776.6" y1="811.3" x2="776.6" y2="1148" stroke="#262626" stroke-width="1.35" stroke-opacity="0.8"/>
<line x1="1296.3" y1="811.3" x2="1296.3" y2="1148" stroke="#262626" stroke-width="1.35" stroke-opacity="0.8"/>
<line x1="776.6" y1="1148" x2="776.6" y2="1142.8" stroke="#262626" stroke-width="1.35" stroke-opacity="0.8"/>
<line x1="776.6" y1="811.3" x2="776.6" y2="816.5" stroke="#262626" stroke-width="1.35" stroke-opacity="0.8"/>
<line x1="906.52" y1="1148" x2="906.52" y2="1142.8" stroke="#262626" stroke-width="1.35" stroke-opacity="0.8"/>
<line x1="906.52" y1="811.3" x2="906.52" y2="816.5" stroke="#262626" stroke-width="1.35" stroke-opacity="0.8"/>
<line x1="1036.45" y1="1148" x2="1036.45" y2="1142.8" stroke="#262626" stroke-width="1.35" stroke-opacity="0.8"/>
<line x1="1036.45" y1="811.3" x2="1036.45" y2="816.5" stroke="#262626" stroke-width="1.35" stroke-opacity="0.8"/>
<line x1="1166.38" y1="1148" x2="1166.38" y2="1142.8" stroke="#262626" stroke-width="1.35" stroke-opacity="0.8"/>
<line x1="1166.38" y1="811.3" x2="1166.38" y2="816.5" stroke="#262626" stroke-width="1.35" stroke-opacity="0.8"/>
<line x1="1296.3" y1="1148" x2="1296.3" y2="1142.8" stroke="#262626" stroke-width="1.35" stroke-opacity="0.8"/>
<line x1="1296.3" y1="811.3" x2="1296.3" y2="816.5" stroke="#262626" stroke-width="1.35" stroke-opacity="0.8"/>
<line x1="776.6" y1="811.3" x2="781.8" y2="811.3" stroke="#262626" stroke-width="1.35" stroke-opacity="0.8"/>
<line x1="1296.3" y1="811.3" x2="1291.1" y2="811.3" stroke="#262626" stroke-width="1.35" stroke-opacity="0.8"/>
<line x1="776.6" y1="923.53" x2="781.8" y2="923.53" stroke="#262626" stroke-width="1.35" stroke-opacity="0.8"/>
<line x1="1296.3" y1="923.53" x2="1291.1" y2="923.53" stroke="#262626" stroke-width="1.35" stroke-opacity="0.8"/>
<line x1="776.6" y1="1035.77" x2="781.8" y2="1035.77" stroke="#262626" stroke-width="1.35" stroke-opacity="0.8"/>
<line x1="1296.3" y1="1035.77" x2="1291.1" y2="1035.77" stroke="#262626" stroke-width="1.35" stroke-opacity="0.8"/>
<line x1="776.6" y1="1148" x2="781.8" y2="1148" stroke="#262626" stroke-width="1.35" stroke-opacity="0.8"/>
<line x1="1296.3" y1="1148" x2="1291.1" y2="1148" stroke="#262626" stroke-width="1.35" stroke-opacity="0.8"/>
<text x="751.6" y="822.1" font-family="'Liberation Sans', Arial, sans-serif" font-size="27.7" fill="#1a1a1a">0</text>
<text x="742.59" y="934.33" font-family="'Liberation Sans', Arial, sans-serif" font-size="27.7" fill="#1a1a1a">-1</text>
<text x="742.59" y="1046.57" font-family="'Liberation Sans', Arial, sans-serif" font-size="27.7" fill="#1a1a1a">-2</text>
<text x="742.46" y="1158.8" font-family="'Liberation Sans', Arial, sans-serif" font-size="27.7" fill="#1a1a1a">-3</text>
<text x="757.42" y="1185.7" font-family="'Liberation Sans', Arial, sans-serif" font-size="27.7" fill="#1a1a1a">0.6</text>
<text x="887.41" y="1185.7" font-family="'Liberation Sans', Arial, sans-serif" font-size="27.7" fill="#1a1a1a">0.7</text>
<text x="1017.27" y="1185.7" font-family="'Liberation Sans', Arial, sans-serif" font-size="27.7" fill="#1a1a1a">0.8</text>
<text x="1147.26" y="1185.7" font-family="'Liberation Sans', Arial, sans-serif" font-size="27.7" fill="#1a1a1a">0.9</text>
<text x="1288.2" y="1185.7" font-family="'Liberation Sans', Arial, sans-serif" font-size="27.7" fill="#1a1a1a">1</text>
<text x="778.42" y="803.8" font-family="'Liberation Sans', Arial, sans-serif" font-size="27.5" fill="#1a1a1a" textLength="17.78" lengthAdjust="spacingAndGlyphs">&#215;</text>
<text x="798.49" y="804.5" font-family="'Liberation Sans', Arial, sans-serif" font-size="28" fill="#1a1a1a" textLength="29.81" lengthAdjust="spacingAndGlyphs">10</text>
<text x="828.32" y="791.7" font-family="'Liberation Sans', Arial, sans-serif" font-size="22.4" fill="#1a1a1a" textLength="19.65" lengthAdjust="spacingAndGlyphs">-3</text>
<polyline points="776.6,898.2 781.0,903.1 785.3,907.8 789.7,912.3 794.1,916.7 798.4,920.9 802.8,925.0 807.2,928.9 811.5,932.7 815.9,936.4 820.3,940.0 824.6,943.4 829.0,946.7 833.4,949.9 837.7,953.0 842.1,956.0 846.5,958.8 850.8,961.6 855.2,964.3 859.6,966.9 863.9,969.4 868.3,971.9 872.7,974.2 877.0,976.5 881.4,978.7 885.8,980.8 890.1,982.9 894.5,984.9 898.9,986.8 903.2,988.7 907.6,990.5 912.0,992.2 916.4,993.9 920.7,995.5 925.1,997.1 929.5,998.7 933.8,1000.2 938.2,1001.6 942.6,1003.0 946.9,1004.4 951.3,1005.7 955.7,1007.0 960.0,1008.3 964.4,1009.5 968.8,1010.6 973.1,1011.8 977.5,1012.9 981.9,1014.0 986.2,1015.0 990.6,1016.1 995.0,1017.1 999.3,1018.0 1003.7,1019.0 1008.1,1019.9 1012.4,1020.8 1016.8,1021.7 1021.2,1022.5 1025.5,1023.3 1029.9,1024.2 1034.3,1025.0 1038.6,1025.7 1043.0,1026.5 1047.4,1027.2 1051.7,1028.0 1056.1,1028.7 1060.5,1029.4 1064.8,1030.0 1069.2,1030.7 1073.6,1031.4 1077.9,1032.0 1082.3,1032.6 1086.7,1033.3 1091.0,1033.9 1095.4,1034.5 1099.8,1035.1 1104.1,1035.6 1108.5,1036.2 1112.9,1036.8 1117.2,1037.3 1121.6,1037.9 1126.0,1038.4 1130.3,1039.0 1134.7,1039.5 1139.1,1040.0 1143.4,1040.5 1147.8,1041.0 1152.2,1041.5 1156.5,1042.0 1160.9,1042.5 1165.3,1043.0 1169.7,1043.5 1174.0,1044.0 1178.4,1044.5 1182.8,1044.9 1187.1,1045.4 1191.5,1045.9 1195.9,1046.3 1200.2,1046.8 1204.6,1047.3 1209.0,1047.7 1213.3,1048.2 1217.7,1048.6 1222.1,1049.1 1226.4,1049.5 1230.8,1050.0 1235.2,1050.4 1239.5,1050.9 1243.9,1051.3 1248.3,1051.7 1252.6,1052.2 1257.0,1052.6 1261.4,1053.1 1265.7,1053.5 1270.1,1054.0 1274.5,1054.4 1278.8,1054.8 1283.2,1055.3 1287.6,1055.7 1291.9,1056.2 1296.3,1056.6" fill="none" stroke="#4a68a8" stroke-width="5.6" stroke-linejoin="round"/>
<rect x="856.4" y="827.3" width="423.2" height="50.3" fill="#fff" stroke="#262626" stroke-width="1.3" stroke-opacity="0.8"/>
<line x1="861.5" y1="852.4" x2="920.9" y2="852.4" stroke="#4a68a8" stroke-width="6.2"/>
<text x="924.52" y="861.6" font-family="'Liberation Serif', serif" font-size="38.3" textLength="148.04" lengthAdjust="spacingAndGlyphs">Long-run</text>
<text x="1084.01" y="861.6" font-family="'Liberation Serif', serif" font-size="38.3" textLength="112.91" lengthAdjust="spacingAndGlyphs">growth</text>
<text x="1209.43" y="861.6" font-family="'Liberation Serif', serif" font-size="38.3" textLength="65.23" lengthAdjust="spacingAndGlyphs">rate</text>
<text x="885.42" y="1226.1" font-family="'Liberation Serif', serif" font-size="38.5" textLength="80.68" lengthAdjust="spacingAndGlyphs">Drug</text>
<text x="978.49" y="1226.1" font-family="'Liberation Serif', serif" font-size="38.5" textLength="171.49" lengthAdjust="spacingAndGlyphs">proportion</text>
<text x="1161.91" y="1226.1" font-family="'Liberation Serif', serif" font-size="38.5" font-style="italic" textLength="24.21" lengthAdjust="spacingAndGlyphs">&#966;</text>
<line x1="776.6" y1="1335.4" x2="1296.3" y2="1335.4" stroke="#262626" stroke-width="1.35" stroke-opacity="0.8"/>
<line x1="776.6" y1="1671.8" x2="1296.3" y2="1671.8" stroke="#262626" stroke-width="1.35" stroke-opacity="0.8"/>
<line x1="776.6" y1="1335.4" x2="776.6" y2="1671.8" stroke="#262626" stroke-width="1.35" stroke-opacity="0.8"/>
<line x1="1296.3" y1="1335.4" x2="1296.3" y2="1671.8" stroke="#262626" stroke-width="1.35" stroke-opacity="0.8"/>
<line x1="776.6" y1="1671.8" x2="776.6" y2="1666.6" stroke="#262626" stroke-width="1.35" stroke-opacity="0.8"/>
<line x1="776.6" y1="1335.4" x2="776.6" y2="1340.6" stroke="#262626" stroke-width="1.35" stroke-opacity="0.8"/>
<line x1="906.52" y1="1671.8" x2="906.52" y2="1666.6" stroke="#262626" stroke-width="1.35" stroke-opacity="0.8"/>
<line x1="906.52" y1="1335.4" x2="906.52" y2="1340.6" stroke="#262626" stroke-width="1.35" stroke-opacity="0.8"/>
<line x1="1036.45" y1="1671.8" x2="1036.45" y2="1666.6" stroke="#262626" stroke-width="1.35" stroke-opacity="0.8"/>
<line x1="1036.45" y1="1335.4" x2="1036.45" y2="1340.6" stroke="#262626" stroke-width="1.35" stroke-opacity="0.8"/>
<line x1="1166.38" y1="1671.8" x2="1166.38" y2="1666.6" stroke="#262626" stroke-width="1.35" stroke-opacity="0.8"/>
<line x1="1166.38" y1="1335.4" x2="1166.38" y2="1340.6" stroke="#262626" stroke-width="1.35" stroke-opacity="0.8"/>
<line x1="1296.3" y1="1671.8" x2="1296.3" y2="1666.6" stroke="#262626" stroke-width="1.35" stroke-opacity="0.8"/>
<line x1="1296.3" y1="1335.4" x2="1296.3" y2="1340.6" stroke="#262626" stroke-width="1.35" stroke-opacity="0.8"/>
<line x1="776.6" y1="1335.4" x2="781.8" y2="1335.4" stroke="#262626" stroke-width="1.35" stroke-opacity="0.8"/>
<line x1="1296.3" y1="1335.4" x2="1291.1" y2="1335.4" stroke="#262626" stroke-width="1.35" stroke-opacity="0.8"/>
<line x1="776.6" y1="1415.5" x2="781.8" y2="1415.5" stroke="#262626" stroke-width="1.35" stroke-opacity="0.8"/>
<line x1="1296.3" y1="1415.5" x2="1291.1" y2="1415.5" stroke="#262626" stroke-width="1.35" stroke-opacity="0.8"/>
<line x1="776.6" y1="1495.59" x2="781.8" y2="1495.59" stroke="#262626" stroke-width="1.35" stroke-opacity="0.8"/>
<line x1="1296.3" y1="1495.59" x2="1291.1" y2="1495.59" stroke="#262626" stroke-width="1.35" stroke-opacity="0.8"/>
<line x1="776.6" y1="1575.69" x2="781.8" y2="1575.69" stroke="#262626" stroke-width="1.35" stroke-opacity="0.8"/>
<line x1="1296.3" y1="1575.69" x2="1291.1" y2="1575.69" stroke="#262626" stroke-width="1.35" stroke-opacity="0.8"/>
<line x1="776.6" y1="1655.78" x2="781.8" y2="1655.78" stroke="#262626" stroke-width="1.35" stroke-opacity="0.8"/>
<line x1="1296.3" y1="1655.78" x2="1291.1" y2="1655.78" stroke="#262626" stroke-width="1.35" stroke-opacity="0.8"/>
<text x="751.73" y="1346.2" font-family="'Liberation Sans', Arial, sans-serif" font-size="27.7" fill="#1a1a1a">3</text>
<text x="728.61" y="1426.3" font-family="'Liberation Sans', Arial, sans-serif" font-size="27.7" fill="#1a1a1a">2.5</text>
<text x="751.87" y="1506.39" font-family="'Liberation Sans', Arial, sans-serif" font-size="27.7" fill="#1a1a1a">2</text>
<text x="728.61" y="1586.49" font-family="'Liberation Sans', Arial, sans-serif" font-size="27.7" fill="#1a1a1a">1.5</text>
<text x="751.87" y="1666.58" font-family="'Liberation Sans', Arial, sans-serif" font-size="27.7" fill="#1a1a1a">1</text>
<text x="757.42" y="1709.3" font-family="'Liberation Sans', Arial, sans-serif" font-size="27.7" fill="#1a1a1a">0.6</text>
<text x="887.41" y="1709.3" font-family="'Liberation Sans', Arial, sans-serif" font-size="27.7" fill="#1a1a1a">0.7</text>
<text x="1017.27" y="1709.3" font-family="'Liberation Sans', Arial, sans-serif" font-size="27.7" fill="#1a1a1a">0.8</text>
<text x="1147.26" y="1709.3" font-family="'Liberation Sans', Arial, sans-serif" font-size="27.7" fill="#1a1a1a">0.9</text>
<text x="1288.2" y="1709.3" font-family="'Liberation Sans', Arial, sans-serif" font-size="27.7" fill="#1a1a1a">1</text>
<polyline points="776.6,1361.1 781.0,1370.3 785.3,1379.1 789.7,1387.6 794.1,1395.9 798.4,1403.8 802.8,1411.5 807.2,1418.9 811.5,1426.0 815.9,1433.0 820.3,1439.6 824.6,1446.1 829.0,1452.3 833.4,1458.3 837.7,1464.2 842.1,1469.8 846.5,1475.2 850.8,1480.5 855.2,1485.6 859.6,1490.5 863.9,1495.3 868.3,1499.9 872.7,1504.3 877.0,1508.6 881.4,1512.8 885.8,1516.8 890.1,1520.8 894.5,1524.5 898.9,1528.2 903.2,1531.8 907.6,1535.2 912.0,1538.6 916.4,1541.8 920.7,1544.9 925.1,1548.0 929.5,1550.9 933.8,1553.8 938.2,1556.6 942.6,1559.3 946.9,1561.9 951.3,1564.4 955.7,1566.9 960.0,1569.3 964.4,1571.6 968.8,1573.9 973.1,1576.1 977.5,1578.2 981.9,1580.3 986.2,1582.3 990.6,1584.2 995.0,1586.2 999.3,1588.0 1003.7,1589.8 1008.1,1591.6 1012.4,1593.3 1016.8,1595.0 1021.2,1596.6 1025.5,1598.2 1029.9,1599.8 1034.3,1601.3 1038.6,1602.8 1043.0,1604.2 1047.4,1605.6 1051.7,1607.0 1056.1,1608.3 1060.5,1609.6 1064.8,1610.9 1069.2,1612.2 1073.6,1613.4 1077.9,1614.6 1082.3,1615.8 1086.7,1616.9 1091.0,1618.1 1095.4,1619.2 1099.8,1620.3 1104.1,1621.3 1108.5,1622.4 1112.9,1623.4 1117.2,1624.4 1121.6,1625.4 1126.0,1626.4 1130.3,1627.3 1134.7,1628.3 1139.1,1629.2 1143.4,1630.1 1147.8,1631.0 1152.2,1631.9 1156.5,1632.7 1160.9,1633.6 1165.3,1634.4 1169.7,1635.3 1174.0,1636.1 1178.4,1636.9 1182.8,1637.7 1187.1,1638.5 1191.5,1639.3 1195.9,1640.0 1200.2,1640.8 1204.6,1641.5 1209.0,1642.3 1213.3,1643.0 1217.7,1643.8 1222.1,1644.5 1226.4,1645.2 1230.8,1645.9 1235.2,1646.6 1239.5,1647.3 1243.9,1648.0 1248.3,1648.7 1252.6,1649.4 1257.0,1650.1 1261.4,1650.7 1265.7,1651.4 1270.1,1652.1 1274.5,1652.7 1278.8,1653.4 1283.2,1654.0 1287.6,1654.7 1291.9,1655.3 1296.3,1656.0" fill="none" stroke="#4a68a8" stroke-width="5.6" stroke-linejoin="round"/>
<rect x="840.8" y="1351.4" width="439" height="104.6" fill="#fff" stroke="#262626" stroke-width="1.3" stroke-opacity="0.8"/>
<line x1="847.3" y1="1375.3" x2="905.9" y2="1375.3" stroke="#4a68a8" stroke-width="6.2"/>
<text x="917.19" y="1386.1" font-family="'Liberation Serif', serif" font-size="38.3" textLength="139.68" lengthAdjust="spacingAndGlyphs">Average</text>
<text x="1068.43" y="1386.1" font-family="'Liberation Serif', serif" font-size="38.3" textLength="77.06" lengthAdjust="spacingAndGlyphs">dose</text>
<text x="917.39" y="1435.9" font-family="'Liberation Serif', serif" font-size="38.3" textLength="142.04" lengthAdjust="spacingAndGlyphs">(relative</text>
<text x="1073.27" y="1435.9" font-family="'Liberation Serif', serif" font-size="38.3" textLength="35.21" lengthAdjust="spacingAndGlyphs">to</text>
<text x="1119.77" y="1435.9" font-family="'Liberation Serif', serif" font-size="38.3" textLength="148.22" lengthAdjust="spacingAndGlyphs">optimal)</text>
<text x="885.42" y="1749" font-family="'Liberation Serif', serif" font-size="38.5" textLength="80.68" lengthAdjust="spacingAndGlyphs">Drug</text>
<text x="978.49" y="1749" font-family="'Liberation Serif', serif" font-size="38.5" textLength="171.49" lengthAdjust="spacingAndGlyphs">proportion</text>
<text x="1161.91" y="1749" font-family="'Liberation Serif', serif" font-size="38.5" font-style="italic" textLength="24.21" lengthAdjust="spacingAndGlyphs">&#966;</text>
<line x1="1440.7" y1="811.3" x2="1959.7" y2="811.3" stroke="#262626" stroke-width="1.35" stroke-opacity="0.8"/>
<line x1="1440.7" y1="1148" x2="1959.7" y2="1148" stroke="#262626" stroke-width="1.35" stroke-opacity="0.8"/>
<line x1="1440.7" y1="811.3" x2="1440.7" y2="1148" stroke="#262626" stroke-width="1.35" stroke-opacity="0.8"/>
<line x1="1959.7" y1="811.3" x2="1959.7" y2="1148" stroke="#262626" stroke-width="1.35" stroke-opacity="0.8"/>
<line x1="1440.7" y1="1148" x2="1440.7" y2="1142.8" stroke="#262626" stroke-width="1.35" stroke-opacity="0.8"/>
<line x1="1440.7" y1="811.3" x2="1440.7" y2="816.5" stroke="#262626" stroke-width="1.35" stroke-opacity="0.8"/>
<line x1="1570.45" y1="1148" x2="1570.45" y2="1142.8" stroke="#262626" stroke-width="1.35" stroke-opacity="0.8"/>
<line x1="1570.45" y1="811.3" x2="1570.45" y2="816.5" stroke="#262626" stroke-width="1.35" stroke-opacity="0.8"/>
<line x1="1700.2" y1="1148" x2="1700.2" y2="1142.8" stroke="#262626" stroke-width="1.35" stroke-opacity="0.8"/>
<line x1="1700.2" y1="811.3" x2="1700.2" y2="816.5" stroke="#262626" stroke-width="1.35" stroke-opacity="0.8"/>
<line x1="1829.95" y1="1148" x2="1829.95" y2="1142.8" stroke="#262626" stroke-width="1.35" stroke-opacity="0.8"/>
<line x1="1829.95" y1="811.3" x2="1829.95" y2="816.5" stroke="#262626" stroke-width="1.35" stroke-opacity="0.8"/>
<line x1="1959.7" y1="1148" x2="1959.7" y2="1142.8" stroke="#262626" stroke-width="1.35" stroke-opacity="0.8"/>
<line x1="1959.7" y1="811.3" x2="1959.7" y2="816.5" stroke="#262626" stroke-width="1.35" stroke-opacity="0.8"/>
<line x1="1440.7" y1="811.3" x2="1445.9" y2="811.3" stroke="#262626" stroke-width="1.35" stroke-opacity="0.8"/>
<line x1="1959.7" y1="811.3" x2="1954.5" y2="811.3" stroke="#262626" stroke-width="1.35" stroke-opacity="0.8"/>
<line x1="1440.7" y1="923.53" x2="1445.9" y2="923.53" stroke="#262626" stroke-width="1.35" stroke-opacity="0.8"/>
<line x1="1959.7" y1="923.53" x2="1954.5" y2="923.53" stroke="#262626" stroke-width="1.35" stroke-opacity="0.8"/>
<line x1="1440.7" y1="1035.77" x2="1445.9" y2="1035.77" stroke="#262626" stroke-width="1.35" stroke-opacity="0.8"/>
<line x1="1959.7" y1="1035.77" x2="1954.5" y2="1035.77" stroke="#262626" stroke-width="1.35" stroke-opacity="0.8"/>
<line x1="1440.7" y1="1148" x2="1445.9" y2="1148" stroke="#262626" stroke-width="1.35" stroke-opacity="0.8"/>
<line x1="1959.7" y1="1148" x2="1954.5" y2="1148" stroke="#262626" stroke-width="1.35" stroke-opacity="0.8"/>
<text x="1415.7" y="822.1" font-family="'Liberation Sans', Arial, sans-serif" font-size="27.7" fill="#1a1a1a">0</text>
<text x="1406.69" y="934.33" font-family="'Liberation Sans', Arial, sans-serif" font-size="27.7" fill="#1a1a1a">-1</text>
<text x="1406.69" y="1046.57" font-family="'Liberation Sans', Arial, sans-serif" font-size="27.7" fill="#1a1a1a">-2</text>
<text x="1406.56" y="1158.8" font-family="'Liberation Sans', Arial, sans-serif" font-size="27.7" fill="#1a1a1a">-3</text>
<text x="1421.52" y="1185.7" font-family="'Liberation Sans', Arial, sans-serif" font-size="27.7" fill="#1a1a1a">0.6</text>
<text x="1551.34" y="1185.7" font-family="'Liberation Sans', Arial, sans-serif" font-size="27.7" fill="#1a1a1a">0.7</text>
<text x="1681.02" y="1185.7" font-family="'Liberation Sans', Arial, sans-serif" font-size="27.7" fill="#1a1a1a">0.8</text>
<text x="1810.84" y="1185.7" font-family="'Liberation Sans', Arial, sans-serif" font-size="27.7" fill="#1a1a1a">0.9</text>
<text x="1951.6" y="1185.7" font-family="'Liberation Sans', Arial, sans-serif" font-size="27.7" fill="#1a1a1a">1</text>
<text x="1442.52" y="803.8" font-family="'Liberation Sans', Arial, sans-serif" font-size="27.5" fill="#1a1a1a" textLength="17.78" lengthAdjust="spacingAndGlyphs">&#215;</text>
<text x="1462.59" y="804.5" font-family="'Liberation Sans', Arial, sans-serif" font-size="28" fill="#1a1a1a" textLength="29.81" lengthAdjust="spacingAndGlyphs">10</text>
<text x="1492.42" y="791.7" font-family="'Liberation Sans', Arial, sans-serif" font-size="22.4" fill="#1a1a1a" textLength="19.65" lengthAdjust="spacingAndGlyphs">-3</text>
<polyline points="1440.7,824.7 1445.1,829.3 1449.4,833.9 1453.8,838.4 1458.1,842.8 1462.5,847.1 1466.9,851.4 1471.2,855.5 1475.6,859.6 1480.0,863.6 1484.3,867.6 1488.7,871.4 1493.0,875.2 1497.4,878.9 1501.8,882.5 1506.1,886.1 1510.5,889.5 1514.8,892.9 1519.2,896.3 1523.6,899.5 1527.9,902.7 1532.3,905.8 1536.6,908.9 1541.0,911.8 1545.4,914.8 1549.7,917.6 1554.1,920.4 1558.5,923.1 1562.8,925.7 1567.2,928.3 1571.5,930.9 1575.9,933.3 1580.3,935.8 1584.6,938.1 1589.0,940.4 1593.3,942.7 1597.7,944.9 1602.1,947.0 1606.4,949.1 1610.8,951.1 1615.2,953.1 1619.5,955.1 1623.9,957.0 1628.2,958.8 1632.6,960.7 1637.0,962.4 1641.3,964.1 1645.7,965.8 1650.0,967.5 1654.4,969.1 1658.8,970.7 1663.1,972.2 1667.5,973.7 1671.9,975.2 1676.2,976.6 1680.6,978.0 1684.9,979.4 1689.3,980.7 1693.7,982.0 1698.0,983.3 1702.4,984.5 1706.7,985.7 1711.1,986.9 1715.5,988.1 1719.8,989.2 1724.2,990.3 1728.5,991.4 1732.9,992.5 1737.3,993.6 1741.6,994.6 1746.0,995.6 1750.4,996.6 1754.7,997.5 1759.1,998.5 1763.4,999.4 1767.8,1000.3 1772.2,1001.2 1776.5,1002.1 1780.9,1003.0 1785.2,1003.8 1789.6,1004.6 1794.0,1005.4 1798.3,1006.2 1802.7,1007.0 1807.1,1007.8 1811.4,1008.6 1815.8,1009.3 1820.1,1010.1 1824.5,1010.8 1828.9,1011.5 1833.2,1012.2 1837.6,1012.9 1841.9,1013.6 1846.3,1014.3 1850.7,1015.0 1855.0,1015.6 1859.4,1016.3 1863.8,1016.9 1868.1,1017.6 1872.5,1018.2 1876.8,1018.9 1881.2,1019.5 1885.6,1020.1 1889.9,1020.7 1894.3,1021.3 1898.6,1021.9 1903.0,1022.5 1907.4,1023.1 1911.7,1023.7 1916.1,1024.3 1920.4,1024.9 1924.8,1025.4 1929.2,1026.0 1933.5,1026.6 1937.9,1027.2 1942.3,1027.7 1946.6,1028.3 1951.0,1028.9 1955.3,1029.4 1959.7,1030.0" fill="none" stroke="#4a68a8" stroke-width="5.6" stroke-linejoin="round"/>
<rect x="1521.5" y="827.3" width="423.2" height="50.3" fill="#fff" stroke="#262626" stroke-width="1.3" stroke-opacity="0.8"/>
<line x1="1526.6" y1="852.4" x2="1586" y2="852.4" stroke="#4a68a8" stroke-width="6.2"/>
<text x="1589.62" y="861.6" font-family="'Liberation Serif', serif" font-size="38.3" textLength="148.04" lengthAdjust="spacingAndGlyphs">Long-run</text>
<text x="1749.11" y="861.6" font-family="'Liberation Serif', serif" font-size="38.3" textLength="112.91" lengthAdjust="spacingAndGlyphs">growth</text>
<text x="1874.53" y="861.6" font-family="'Liberation Serif', serif" font-size="38.3" textLength="65.23" lengthAdjust="spacingAndGlyphs">rate</text>
<text x="1549.52" y="1226.1" font-family="'Liberation Serif', serif" font-size="38.5" textLength="80.68" lengthAdjust="spacingAndGlyphs">Drug</text>
<text x="1642.59" y="1226.1" font-family="'Liberation Serif', serif" font-size="38.5" textLength="171.49" lengthAdjust="spacingAndGlyphs">proportion</text>
<text x="1826.01" y="1226.1" font-family="'Liberation Serif', serif" font-size="38.5" font-style="italic" textLength="24.21" lengthAdjust="spacingAndGlyphs">&#966;</text>
<line x1="1440.7" y1="1335.4" x2="1959.7" y2="1335.4" stroke="#262626" stroke-width="1.35" stroke-opacity="0.8"/>
<line x1="1440.7" y1="1671.8" x2="1959.7" y2="1671.8" stroke="#262626" stroke-width="1.35" stroke-opacity="0.8"/>
<line x1="1440.7" y1="1335.4" x2="1440.7" y2="1671.8" stroke="#262626" stroke-width="1.35" stroke-opacity="0.8"/>
<line x1="1959.7" y1="1335.4" x2="1959.7" y2="1671.8" stroke="#262626" stroke-width="1.35" stroke-opacity="0.8"/>
<line x1="1440.7" y1="1671.8" x2="1440.7" y2="1666.6" stroke="#262626" stroke-width="1.35" stroke-opacity="0.8"/>
<line x1="1440.7" y1="1335.4" x2="1440.7" y2="1340.6" stroke="#262626" stroke-width="1.35" stroke-opacity="0.8"/>
<line x1="1570.45" y1="1671.8" x2="1570.45" y2="1666.6" stroke="#262626" stroke-width="1.35" stroke-opacity="0.8"/>
<line x1="1570.45" y1="1335.4" x2="1570.45" y2="1340.6" stroke="#262626" stroke-width="1.35" stroke-opacity="0.8"/>
<line x1="1700.2" y1="1671.8" x2="1700.2" y2="1666.6" stroke="#262626" stroke-width="1.35" stroke-opacity="0.8"/>
<line x1="1700.2" y1="1335.4" x2="1700.2" y2="1340.6" stroke="#262626" stroke-width="1.35" stroke-opacity="0.8"/>
<line x1="1829.95" y1="1671.8" x2="1829.95" y2="1666.6" stroke="#262626" stroke-width="1.35" stroke-opacity="0.8"/>
<line x1="1829.95" y1="1335.4" x2="1829.95" y2="1340.6" stroke="#262626" stroke-width="1.35" stroke-opacity="0.8"/>
<line x1="1959.7" y1="1671.8" x2="1959.7" y2="1666.6" stroke="#262626" stroke-width="1.35" stroke-opacity="0.8"/>
<line x1="1959.7" y1="1335.4" x2="1959.7" y2="1340.6" stroke="#262626" stroke-width="1.35" stroke-opacity="0.8"/>
<line x1="1440.7" y1="1335.4" x2="1445.9" y2="1335.4" stroke="#262626" stroke-width="1.35" stroke-opacity="0.8"/>
<line x1="1959.7" y1="1335.4" x2="1954.5" y2="1335.4" stroke="#262626" stroke-width="1.35" stroke-opacity="0.8"/>
<line x1="1440.7" y1="1415.5" x2="1445.9" y2="1415.5" stroke="#262626" stroke-width="1.35" stroke-opacity="0.8"/>
<line x1="1959.7" y1="1415.5" x2="1954.5" y2="1415.5" stroke="#262626" stroke-width="1.35" stroke-opacity="0.8"/>
<line x1="1440.7" y1="1495.59" x2="1445.9" y2="1495.59" stroke="#262626" stroke-width="1.35" stroke-opacity="0.8"/>
<line x1="1959.7" y1="1495.59" x2="1954.5" y2="1495.59" stroke="#262626" stroke-width="1.35" stroke-opacity="0.8"/>
<line x1="1440.7" y1="1575.69" x2="1445.9" y2="1575.69" stroke="#262626" stroke-width="1.35" stroke-opacity="0.8"/>
<line x1="1959.7" y1="1575.69" x2="1954.5" y2="1575.69" stroke="#262626" stroke-width="1.35" stroke-opacity="0.8"/>
<line x1="1440.7" y1="1655.78" x2="1445.9" y2="1655.78" stroke="#262626" stroke-width="1.35" stroke-opacity="0.8"/>
<line x1="1959.7" y1="1655.78" x2="1954.5" y2="1655.78" stroke="#262626" stroke-width="1.35" stroke-opacity="0.8"/>
<text x="1415.83" y="1346.2" font-family="'Liberation Sans', Arial, sans-serif" font-size="27.7" fill="#1a1a1a">3</text>
<text x="1392.71" y="1426.3" font-family="'Liberation Sans', Arial, sans-serif" font-size="27.7" fill="#1a1a1a">2.5</text>
<text x="1415.97" y="1506.39" font-family="'Liberation Sans', Arial, sans-serif" font-size="27.7" fill="#1a1a1a">2</text>
<text x="1392.71" y="1586.49" font-family="'Liberation Sans', Arial, sans-serif" font-size="27.7" fill="#1a1a1a">1.5</text>
<text x="1415.97" y="1666.58" font-family="'Liberation Sans', Arial, sans-serif" font-size="27.7" fill="#1a1a1a">1</text>
<text x="1421.52" y="1709.3" font-family="'Liberation Sans', Arial, sans-serif" font-size="27.7" fill="#1a1a1a">0.6</text>
<text x="1551.34" y="1709.3" font-family="'Liberation Sans', Arial, sans-serif" font-size="27.7" fill="#1a1a1a">0.7</text>
<text x="1681.02" y="1709.3" font-family="'Liberation Sans', Arial, sans-serif" font-size="27.7" fill="#1a1a1a">0.8</text>
<text x="1810.84" y="1709.3" font-family="'Liberation Sans', Arial, sans-serif" font-size="27.7" fill="#1a1a1a">0.9</text>
<text x="1951.6" y="1709.3" font-family="'Liberation Sans', Arial, sans-serif" font-size="27.7" fill="#1a1a1a">1</text>
<polyline points="1440.7,1393.7 1445.1,1401.6 1449.4,1409.1 1453.8,1416.4 1458.1,1423.4 1462.5,1430.2 1466.9,1436.7 1471.2,1442.9 1475.6,1449.0 1480.0,1454.8 1484.3,1460.4 1488.7,1465.8 1493.0,1471.0 1497.4,1476.0 1501.8,1480.9 1506.1,1485.6 1510.5,1490.1 1514.8,1494.5 1519.2,1498.8 1523.6,1502.9 1527.9,1506.9 1532.3,1510.8 1536.6,1514.5 1541.0,1518.1 1545.4,1521.6 1549.7,1525.1 1554.1,1528.4 1558.5,1531.6 1562.8,1534.7 1567.2,1537.7 1571.5,1540.7 1575.9,1543.6 1580.3,1546.4 1584.6,1549.1 1589.0,1551.7 1593.3,1554.3 1597.7,1556.8 1602.1,1559.2 1606.4,1561.6 1610.8,1563.9 1615.2,1566.2 1619.5,1568.4 1623.9,1570.6 1628.2,1572.7 1632.6,1574.8 1637.0,1576.8 1641.3,1578.7 1645.7,1580.7 1650.0,1582.5 1654.4,1584.4 1658.8,1586.2 1663.1,1587.9 1667.5,1589.7 1671.9,1591.3 1676.2,1593.0 1680.6,1594.6 1684.9,1596.2 1689.3,1597.8 1693.7,1599.3 1698.0,1600.8 1702.4,1602.3 1706.7,1603.7 1711.1,1605.1 1715.5,1606.5 1719.8,1607.8 1724.2,1609.2 1728.5,1610.5 1732.9,1611.8 1737.3,1613.0 1741.6,1614.3 1746.0,1615.5 1750.4,1616.7 1754.7,1617.9 1759.1,1619.0 1763.4,1620.2 1767.8,1621.3 1772.2,1622.4 1776.5,1623.4 1780.9,1624.5 1785.2,1625.5 1789.6,1626.6 1794.0,1627.6 1798.3,1628.6 1802.7,1629.5 1807.1,1630.5 1811.4,1631.4 1815.8,1632.4 1820.1,1633.3 1824.5,1634.2 1828.9,1635.0 1833.2,1635.9 1837.6,1636.8 1841.9,1637.6 1846.3,1638.4 1850.7,1639.2 1855.0,1640.0 1859.4,1640.8 1863.8,1641.6 1868.1,1642.3 1872.5,1643.1 1876.8,1643.8 1881.2,1644.5 1885.6,1645.2 1889.9,1645.9 1894.3,1646.6 1898.6,1647.3 1903.0,1647.9 1907.4,1648.6 1911.7,1649.2 1916.1,1649.8 1920.4,1650.4 1924.8,1651.0 1929.2,1651.6 1933.5,1652.2 1937.9,1652.8 1942.3,1653.3 1946.6,1653.9 1951.0,1654.4 1955.3,1654.9 1959.7,1655.5" fill="none" stroke="#4a68a8" stroke-width="5.6" stroke-linejoin="round"/>
<rect x="1500.7" y="1353" width="439" height="104.6" fill="#fff" stroke="#262626" stroke-width="1.3" stroke-opacity="0.8"/>
<line x1="1507.2" y1="1376.9" x2="1565.8" y2="1376.9" stroke="#4a68a8" stroke-width="6.2"/>
<text x="1577.09" y="1387.7" font-family="'Liberation Serif', serif" font-size="38.3" textLength="139.68" lengthAdjust="spacingAndGlyphs">Average</text>
<text x="1728.33" y="1387.7" font-family="'Liberation Serif', serif" font-size="38.3" textLength="77.06" lengthAdjust="spacingAndGlyphs">dose</text>
<text x="1577.29" y="1437.5" font-family="'Liberation Serif', serif" font-size="38.3" textLength="142.04" lengthAdjust="spacingAndGlyphs">(relative</text>
<text x="1733.17" y="1437.5" font-family="'Liberation Serif', serif" font-size="38.3" textLength="35.21" lengthAdjust="spacingAndGlyphs">to</text>
<text x="1779.67" y="1437.5" font-family="'Liberation Serif', serif" font-size="38.3" textLength="148.22" lengthAdjust="spacingAndGlyphs">optimal)</text>
<text x="1549.52" y="1749" font-family="'Liberation Serif', serif" font-size="38.5" textLength="80.68" lengthAdjust="spacingAndGlyphs">Drug</text>
<text x="1642.59" y="1749" font-family="'Liberation Serif', serif" font-size="38.5" textLength="171.49" lengthAdjust="spacingAndGlyphs">proportion</text>
<text x="1826.01" y="1749" font-family="'Liberation Serif', serif" font-size="38.5" font-style="italic" textLength="24.21" lengthAdjust="spacingAndGlyphs">&#966;</text>
<text x="292.18" y="1837.9" font-family="'Liberation Serif', serif" font-size="51" font-weight="bold" textLength="110.68" lengthAdjust="spacingAndGlyphs">Case</text>
<text x="418.96" y="1837.9" font-family="'Liberation Serif', serif" font-size="51" font-weight="bold" textLength="22.52" lengthAdjust="spacingAndGlyphs">I</text>
<text x="966.3" y="1837.9" font-family="'Liberation Serif', serif" font-size="51" font-weight="bold" textLength="109.75" lengthAdjust="spacingAndGlyphs">Case</text>
<text x="1092.2" y="1837.9" font-family="'Liberation Serif', serif" font-size="51" font-weight="bold" textLength="44.1" lengthAdjust="spacingAndGlyphs">II</text>
<text x="1618.01" y="1837.9" font-family="'Liberation Serif', serif" font-size="51" font-weight="bold" textLength="109.02" lengthAdjust="spacingAndGlyphs">Case</text>
<text x="1743.22" y="1837.9" font-family="'Liberation Serif', serif" font-size="51" font-weight="bold" textLength="65.52" lengthAdjust="spacingAndGlyphs">III</text>
<line x1="133.4" y1="1878.7" x2="133.4" y2="2045.3" stroke="#111" stroke-width="2.6"/>
<polygon points="133.4,1861.8 123.9,1879.7 142.9,1879.7" fill="#111"/>
<line x1="125.4" y1="2035.8" x2="329.1" y2="2035.8" stroke="#111" stroke-width="2.6"/>
<polygon points="345,2035.8 328.1,2026.5 328.1,2045.1" fill="#000"/>
<line x1="133.4" y1="2004.5" x2="339.3" y2="1917.7" stroke="#000" stroke-width="3.3"/>
<line x1="413.3" y1="1875.5" x2="413.3" y2="2049.2" stroke="#111" stroke-width="2.6"/>
<polygon points="413.3,1858.6 403.8,1876.5 422.8,1876.5" fill="#111"/>
<line x1="401.5" y1="2039" x2="614.4" y2="2039" stroke="#111" stroke-width="2.6"/>
<polygon points="629.7,2039 613.4,2029.7 613.4,2048.3" fill="#000"/>
<line x1="413.3" y1="1928.2" x2="621.8" y2="1928.2" stroke="#000" stroke-width="3.3"/>
<line x1="798" y1="1881" x2="798" y2="2048.5" stroke="#111" stroke-width="2.6"/>
<polygon points="798,1864 788.5,1882 807.5,1882" fill="#111"/>
<line x1="790" y1="2038.3" x2="994.9" y2="2038.3" stroke="#111" stroke-width="2.6"/>
<polygon points="1011.5,2038.3 993.9,2029 993.9,2047.6" fill="#000"/>
<line x1="798" y1="1985.7" x2="1002.3" y2="1985.7" stroke="#000" stroke-width="3.3"/>
<line x1="1073.1" y1="1876.8" x2="1073.1" y2="2048.5" stroke="#111" stroke-width="2.6"/>
<polygon points="1073.1,1860.9 1063.6,1877.8 1082.6,1877.8" fill="#111"/>
<line x1="1062" y1="2038.3" x2="1271.7" y2="2038.3" stroke="#111" stroke-width="2.6"/>
<polygon points="1287,2038.3 1270.7,2029 1270.7,2047.6" fill="#000"/>
<line x1="1073.1" y1="1891.5" x2="1277.4" y2="2000.7" stroke="#000" stroke-width="3.3"/>
<line x1="1472.3" y1="1881" x2="1472.3" y2="2048.5" stroke="#111" stroke-width="2.6"/>
<polygon points="1472.3,1865 1462.8,1882 1481.8,1882" fill="#111"/>
<line x1="1465" y1="2038.3" x2="1669.9" y2="2038.3" stroke="#111" stroke-width="2.6"/>
<polygon points="1685.9,2038.3 1668.9,2029 1668.9,2047.6" fill="#000"/>
<line x1="1472.3" y1="2007" x2="1678.5" y2="1919.6" stroke="#000" stroke-width="3.3"/>
<line x1="1762.5" y1="1873.6" x2="1762.5" y2="2045.3" stroke="#111" stroke-width="2.6"/>
<polygon points="1762.5,1857 1753,1874.6 1772,1874.6" fill="#111"/>
<line x1="1751.3" y1="2035.8" x2="1960.4" y2="2035.8" stroke="#111" stroke-width="2.6"/>
<polygon points="1976.3,2035.8 1959.4,2026.5 1959.4,2045.1" fill="#000"/>
<line x1="1762.5" y1="1888.3" x2="1966.7" y2="1998.1" stroke="#000" stroke-width="3.3"/>
<text x="87.81" y="2012.8" font-family="'Liberation Serif', serif" font-size="41" font-style="italic" textLength="21.16" lengthAdjust="spacingAndGlyphs">&#956;</text>
<text x="109.63" y="2017.6" font-family="'Liberation Serif', serif" font-size="27.88" textLength="15.45" lengthAdjust="spacingAndGlyphs">0</text>
<text x="177.02" y="1938.8" font-family="'Liberation Serif', serif" font-size="40.51" font-style="italic" textLength="21.84" lengthAdjust="spacingAndGlyphs">&#956;</text>
<text x="200.23" y="1938.8" font-family="'Liberation Serif', serif" font-size="42.64" textLength="12.17" lengthAdjust="spacingAndGlyphs">(</text>
<text x="213.7" y="1938.8" font-family="'Liberation Serif', serif" font-size="40.51" font-style="italic" textLength="16.6" lengthAdjust="spacingAndGlyphs">c</text>
<text x="230.93" y="1938.8" font-family="'Liberation Serif', serif" font-size="42.64" textLength="12.49" lengthAdjust="spacingAndGlyphs">)</text>
<text x="370.81" y="1938.4" font-family="'Liberation Serif', serif" font-size="41" font-style="italic" textLength="17.4" lengthAdjust="spacingAndGlyphs">&#957;</text>
<text x="389.96" y="1943.2" font-family="'Liberation Serif', serif" font-size="27.88" textLength="13.16" lengthAdjust="spacingAndGlyphs">0</text>
<text x="490.44" y="1910.12" font-family="'Liberation Serif', serif" font-size="38.31" font-style="italic" textLength="20.51" lengthAdjust="spacingAndGlyphs">&#957;</text>
<text x="513.68" y="1910.12" font-family="'Liberation Serif', serif" font-size="40.33" textLength="11.83" lengthAdjust="spacingAndGlyphs">(</text>
<text x="526.78" y="1910.12" font-family="'Liberation Serif', serif" font-size="38.31" font-style="italic" textLength="16.14" lengthAdjust="spacingAndGlyphs">c</text>
<text x="543.53" y="1910.12" font-family="'Liberation Serif', serif" font-size="40.33" textLength="12.14" lengthAdjust="spacingAndGlyphs">)</text>
<text x="753.21" y="1994.3" font-family="'Liberation Serif', serif" font-size="41" font-style="italic" textLength="21.5" lengthAdjust="spacingAndGlyphs">&#956;</text>
<text x="775.4" y="1999.1" font-family="'Liberation Serif', serif" font-size="27.88" textLength="15.7" lengthAdjust="spacingAndGlyphs">0</text>
<text x="873.82" y="1965.45" font-family="'Liberation Serif', serif" font-size="39.88" font-style="italic" textLength="21.98" lengthAdjust="spacingAndGlyphs">&#956;</text>
<text x="897.18" y="1965.45" font-family="'Liberation Serif', serif" font-size="41.98" textLength="12.25" lengthAdjust="spacingAndGlyphs">(</text>
<text x="910.73" y="1965.45" font-family="'Liberation Serif', serif" font-size="39.88" font-style="italic" textLength="16.7" lengthAdjust="spacingAndGlyphs">c</text>
<text x="928.06" y="1965.45" font-family="'Liberation Serif', serif" font-size="41.98" textLength="12.57" lengthAdjust="spacingAndGlyphs">)</text>
<text x="1023.14" y="1895.3" font-family="'Liberation Serif', serif" font-size="46" font-style="italic" textLength="20.59" lengthAdjust="spacingAndGlyphs">&#957;</text>
<text x="1045.81" y="1900.1" font-family="'Liberation Serif', serif" font-size="31.28" textLength="15.58" lengthAdjust="spacingAndGlyphs">0</text>
<text x="1177.86" y="1935.62" font-family="'Liberation Serif', serif" font-size="44.99" font-style="italic" textLength="23.85" lengthAdjust="spacingAndGlyphs">&#957;</text>
<text x="1204.9" y="1935.62" font-family="'Liberation Serif', serif" font-size="47.36" textLength="13.76" lengthAdjust="spacingAndGlyphs">(</text>
<text x="1220.13" y="1935.62" font-family="'Liberation Serif', serif" font-size="44.99" font-style="italic" textLength="18.77" lengthAdjust="spacingAndGlyphs">c</text>
<text x="1239.6" y="1935.62" font-family="'Liberation Serif', serif" font-size="47.36" textLength="14.12" lengthAdjust="spacingAndGlyphs">)</text>
<text x="1428.21" y="2019.2" font-family="'Liberation Serif', serif" font-size="41" font-style="italic" textLength="21.33" lengthAdjust="spacingAndGlyphs">&#956;</text>
<text x="1450.21" y="2024" font-family="'Liberation Serif', serif" font-size="27.88" textLength="15.58" lengthAdjust="spacingAndGlyphs">0</text>
<text x="1516.92" y="1940.42" font-family="'Liberation Serif', serif" font-size="38.31" font-style="italic" textLength="21.98" lengthAdjust="spacingAndGlyphs">&#956;</text>
<text x="1540.28" y="1940.42" font-family="'Liberation Serif', serif" font-size="40.33" textLength="12.25" lengthAdjust="spacingAndGlyphs">(</text>
<text x="1553.83" y="1940.42" font-family="'Liberation Serif', serif" font-size="38.31" font-style="italic" textLength="16.7" lengthAdjust="spacingAndGlyphs">c</text>
<text x="1571.16" y="1940.42" font-family="'Liberation Serif', serif" font-size="40.33" textLength="12.57" lengthAdjust="spacingAndGlyphs">)</text>
<text x="1712.53" y="1898.5" font-family="'Liberation Serif', serif" font-size="46" font-style="italic" textLength="20.93" lengthAdjust="spacingAndGlyphs">&#957;</text>
<text x="1735.58" y="1903.3" font-family="'Liberation Serif', serif" font-size="31.28" textLength="15.83" lengthAdjust="spacingAndGlyphs">0</text>
<text x="1867.26" y="1932.25" font-family="'Liberation Serif', serif" font-size="44.89" font-style="italic" textLength="23.81" lengthAdjust="spacingAndGlyphs">&#957;</text>
<text x="1894.26" y="1932.25" font-family="'Liberation Serif', serif" font-size="47.25" textLength="13.74" lengthAdjust="spacingAndGlyphs">(</text>
<text x="1909.47" y="1932.25" font-family="'Liberation Serif', serif" font-size="44.89" font-style="italic" textLength="18.74" lengthAdjust="spacingAndGlyphs">c</text>
<text x="1928.92" y="1932.25" font-family="'Liberation Serif', serif" font-size="47.25" textLength="14.1" lengthAdjust="spacingAndGlyphs">)</text>
<text x="303.47" y="2063.2" font-family="'Liberation Serif', serif" font-size="44" font-style="italic" textLength="18.19" lengthAdjust="spacingAndGlyphs">c</text>
<text x="612.62" y="2067.7" font-family="'Liberation Serif', serif" font-size="44" font-style="italic" textLength="17.42" lengthAdjust="spacingAndGlyphs">c</text>
<text x="969.81" y="2064.5" font-family="'Liberation Serif', serif" font-size="44" font-style="italic" textLength="17.53" lengthAdjust="spacingAndGlyphs">c</text>
<text x="1644.87" y="2065" font-family="'Liberation Serif', serif" font-size="44" font-style="italic" textLength="16.77" lengthAdjust="spacingAndGlyphs">c</text>
</svg>
</body></html>
